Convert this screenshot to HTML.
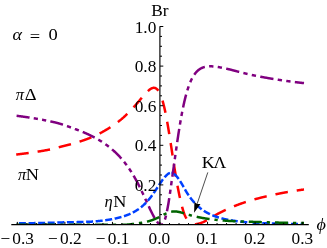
<!DOCTYPE html><html><head><meta charset="utf-8"><style>html,body{margin:0;padding:0;background:#fff;width:327px;height:248px;overflow:hidden}</style></head><body><svg width="327" height="248" viewBox="0 0 327 248" style="position:absolute;left:0;top:0;will-change:transform;font-family:'Liberation Serif',serif;font-size:16.5px">
<rect width="327" height="248" fill="#fff"/>
<defs><clipPath id="cp"><rect x="0" y="0" width="327" height="224.5"/></clipPath></defs><g clip-path="url(#cp)">
<path d="M16.20,154.54 L16.45,154.51 L16.70,154.48 L16.95,154.45 L17.20,154.43 L17.45,154.40 L17.70,154.37 L17.95,154.34 L18.20,154.31 L18.45,154.28 L18.70,154.25 L18.95,154.22 L19.20,154.19 L19.45,154.16 L19.70,154.13 L19.95,154.10 L20.20,154.07 L20.45,154.04 L20.70,154.01 L20.95,153.98 L21.20,153.95 L21.45,153.92 L21.70,153.88 L21.95,153.85 L22.20,153.82 L22.45,153.79 L22.70,153.76 L22.95,153.73 L23.20,153.70 L23.45,153.66 L23.70,153.63 L23.95,153.60 L24.20,153.57 L24.45,153.54 L24.70,153.50 L24.95,153.47 L25.20,153.44 L25.45,153.41 L25.70,153.37 L25.95,153.34 L26.20,153.31 L26.45,153.27 L26.70,153.24 L26.95,153.21 L27.20,153.17 L27.45,153.14 L27.70,153.11 L27.95,153.07 L28.20,153.04 L28.45,153.00 L28.70,152.97 L28.95,152.93 L29.20,152.90 L29.45,152.86 L29.70,152.83 L29.95,152.80 L30.20,152.76 L30.45,152.72 L30.70,152.69 L30.95,152.65 L31.20,152.62 L31.45,152.58 L31.70,152.55 L31.95,152.51 L32.20,152.47 L32.45,152.44 L32.70,152.40 L32.95,152.36 L33.20,152.33 L33.45,152.29 L33.70,152.25 L33.95,152.22 L34.20,152.18 L34.45,152.14 L34.70,152.10 L34.95,152.07 L35.20,152.03 L35.45,151.99 L35.70,151.95 L35.95,151.91 L36.20,151.88 L36.45,151.84 L36.70,151.80 L36.95,151.76 L37.20,151.72 L37.45,151.68 L37.70,151.64 L37.95,151.60 L38.20,151.56 L38.45,151.52 L38.70,151.48 L38.95,151.44 L39.20,151.40 L39.45,151.36 L39.70,151.32 L39.95,151.28 L40.20,151.24 L40.45,151.20 L40.70,151.16 L40.95,151.12 L41.20,151.07 L41.45,151.03 L41.70,150.99 L41.95,150.95 L42.20,150.91 L42.45,150.86 L42.70,150.82 L42.95,150.78 L43.20,150.74 L43.45,150.69 L43.70,150.65 L43.95,150.61 L44.20,150.56 L44.45,150.52 L44.70,150.48 L44.95,150.43 L45.20,150.39 L45.45,150.34 L45.70,150.30 L45.95,150.25 L46.20,150.21 L46.45,150.16 L46.70,150.12 L46.95,150.07 L47.20,150.03 L47.45,149.98 L47.70,149.93 L47.95,149.89 L48.20,149.84 L48.45,149.79 L48.70,149.75 L48.95,149.70 L49.20,149.65 L49.45,149.60 L49.70,149.56 L49.95,149.51 L50.20,149.46 L50.45,149.41 L50.70,149.36 L50.95,149.31 L51.20,149.25 L51.45,149.20 L51.70,149.14 L51.95,149.08 L52.20,149.03 L52.45,148.97 L52.70,148.91 L52.95,148.84 L53.20,148.78 L53.45,148.72 L53.70,148.66 L53.95,148.59 L54.20,148.53 L54.45,148.46 L54.70,148.39 L54.95,148.33 L55.20,148.26 L55.45,148.19 L55.70,148.12 L55.95,148.05 L56.20,147.99 L56.45,147.92 L56.70,147.85 L56.95,147.78 L57.20,147.71 L57.45,147.64 L57.70,147.57 L57.95,147.50 L58.20,147.43 L58.45,147.36 L58.70,147.30 L58.95,147.23 L59.20,147.16 L59.45,147.09 L59.70,147.02 L59.95,146.96 L60.20,146.89 L60.45,146.83 L60.70,146.76 L60.95,146.70 L61.20,146.63 L61.45,146.57 L61.70,146.51 L61.95,146.45 L62.20,146.39 L62.45,146.33 L62.70,146.27 L62.95,146.21 L63.20,146.15 L63.45,146.09 L63.70,146.02 L63.95,145.96 L64.20,145.90 L64.45,145.84 L64.70,145.78 L64.95,145.72 L65.20,145.65 L65.45,145.59 L65.70,145.53 L65.95,145.46 L66.20,145.40 L66.45,145.34 L66.70,145.27 L66.95,145.21 L67.20,145.15 L67.45,145.08 L67.70,145.02 L67.95,144.95 L68.20,144.89 L68.45,144.82 L68.70,144.76 L68.95,144.69 L69.20,144.62 L69.45,144.56 L69.70,144.49 L69.95,144.42 L70.20,144.36 L70.45,144.29 L70.70,144.22 L70.95,144.15 L71.20,144.09 L71.45,144.02 L71.70,143.95 L71.95,143.88 L72.20,143.81 L72.45,143.74 L72.70,143.67 L72.95,143.60 L73.20,143.53 L73.45,143.46 L73.70,143.39 L73.95,143.32 L74.20,143.25 L74.45,143.17 L74.70,143.10 L74.95,143.03 L75.20,142.95 L75.45,142.88 L75.70,142.81 L75.95,142.73 L76.20,142.66 L76.45,142.58 L76.70,142.51 L76.95,142.43 L77.20,142.36 L77.45,142.28 L77.70,142.20 L77.95,142.13 L78.20,142.05 L78.45,141.97 L78.70,141.89 L78.95,141.82 L79.20,141.74 L79.45,141.66 L79.70,141.58 L79.95,141.50 L80.20,141.42 L80.45,141.34 L80.70,141.25 L80.95,141.17 L81.20,141.09 L81.45,141.01 L81.70,140.92 L81.95,140.84 L82.20,140.76 L82.45,140.67 L82.70,140.59 L82.95,140.50 L83.20,140.42 L83.45,140.33 L83.70,140.24 L83.95,140.16 L84.20,140.07 L84.45,139.98 L84.70,139.89 L84.95,139.80 L85.20,139.71 L85.45,139.62 L85.70,139.53 L85.95,139.44 L86.20,139.35 L86.45,139.26 L86.70,139.16 L86.95,139.07 L87.20,138.98 L87.45,138.88 L87.70,138.79 L87.95,138.69 L88.20,138.60 L88.45,138.50 L88.70,138.40 L88.95,138.30 L89.20,138.21 L89.45,138.11 L89.70,138.01 L89.95,137.91 L90.20,137.81 L90.45,137.71 L90.70,137.60 L90.95,137.50 L91.20,137.40 L91.45,137.29 L91.70,137.19 L91.95,137.08 L92.20,136.97 L92.45,136.87 L92.70,136.76 L92.95,136.65 L93.20,136.54 L93.45,136.43 L93.70,136.32 L93.95,136.20 L94.20,136.09 L94.45,135.98 L94.70,135.86 L94.95,135.75 L95.20,135.63 L95.45,135.51 L95.70,135.40 L95.95,135.28 L96.20,135.16 L96.45,135.04 L96.70,134.92 L96.95,134.80 L97.20,134.68 L97.45,134.55 L97.70,134.43 L97.95,134.30 L98.20,134.18 L98.45,134.05 L98.70,133.93 L98.95,133.80 L99.20,133.67 L99.45,133.54 L99.70,133.42 L99.95,133.29 L100.20,133.15 L100.45,133.02 L100.70,132.89 L100.95,132.76 L101.20,132.63 L101.45,132.49 L101.70,132.36 L101.95,132.22 L102.20,132.08 L102.45,131.95 L102.70,131.81 L102.95,131.67 L103.20,131.53 L103.45,131.39 L103.70,131.25 L103.95,131.11 L104.20,130.97 L104.45,130.83 L104.70,130.68 L104.95,130.54 L105.20,130.39 L105.45,130.25 L105.70,130.10 L105.95,129.95 L106.20,129.81 L106.45,129.66 L106.70,129.51 L106.95,129.36 L107.20,129.21 L107.45,129.06 L107.70,128.91 L107.95,128.75 L108.20,128.60 L108.45,128.45 L108.70,128.29 L108.95,128.14 L109.20,127.98 L109.45,127.82 L109.70,127.66 L109.95,127.51 L110.20,127.35 L110.45,127.19 L110.70,127.03 L110.95,126.87 L111.20,126.70 L111.45,126.54 L111.70,126.38 L111.95,126.21 L112.20,126.05 L112.45,125.88 L112.70,125.72 L112.95,125.55 L113.20,125.38 L113.45,125.21 L113.70,125.04 L113.95,124.87 L114.20,124.69 L114.45,124.52 L114.70,124.34 L114.95,124.17 L115.20,123.99 L115.45,123.81 L115.70,123.63 L115.95,123.45 L116.20,123.26 L116.45,123.08 L116.70,122.90 L116.95,122.71 L117.20,122.52 L117.45,122.33 L117.70,122.14 L117.95,121.95 L118.20,121.76 L118.45,121.57 L118.70,121.37 L118.95,121.18 L119.20,120.98 L119.45,120.78 L119.70,120.58 L119.95,120.38 L120.20,120.18 L120.45,119.97 L120.70,119.77 L120.95,119.56 L121.20,119.35 L121.45,119.15 L121.70,118.94 L121.95,118.72 L122.20,118.51 L122.45,118.30 L122.70,118.08 L122.95,117.86 L123.20,117.65 L123.45,117.43 L123.70,117.20 L123.95,116.98 L124.20,116.76 L124.45,116.53 L124.70,116.31 L124.95,116.08 L125.20,115.85 L125.45,115.62 L125.70,115.38 L125.95,115.15 L126.20,114.91 L126.45,114.68 L126.70,114.44 L126.95,114.20 L127.20,113.96 L127.45,113.72 L127.70,113.47 L127.95,113.23 L128.20,112.98 L128.45,112.73 L128.70,112.48 L128.95,112.23 L129.20,111.98 L129.45,111.72 L129.70,111.47 L129.95,111.21 L130.20,110.95 L130.45,110.69 L130.70,110.43 L130.95,110.17 L131.20,109.91 L131.45,109.64 L131.70,109.37 L131.95,109.11 L132.20,108.84 L132.45,108.57 L132.70,108.29 L132.95,108.02 L133.20,107.75 L133.45,107.47 L133.70,107.19 L133.95,106.91 L134.20,106.63 L134.45,106.35 L134.70,106.07 L134.95,105.79 L135.20,105.50 L135.45,105.22 L135.70,104.93 L135.95,104.65 L136.20,104.36 L136.45,104.07 L136.70,103.78 L136.95,103.49 L137.20,103.20 L137.45,102.90 L137.70,102.61 L137.95,102.32 L138.20,102.02 L138.45,101.73 L138.70,101.43 L138.95,101.13 L139.20,100.84 L139.45,100.54 L139.70,100.24 L139.95,99.95 L140.20,99.65 L140.45,99.35 L140.70,99.05 L140.95,98.76 L141.20,98.46 L141.45,98.16 L141.70,97.87 L141.95,97.57 L142.20,97.28 L142.45,96.99 L142.70,96.69 L142.95,96.40 L143.20,96.11 L143.45,95.82 L143.70,95.53 L143.95,95.25 L144.20,94.96 L144.45,94.68 L144.70,94.40 L144.95,94.12 L145.20,93.85 L145.45,93.57 L145.70,93.30 L145.95,93.04 L146.20,92.77 L146.45,92.51 L146.70,92.26 L146.95,92.01 L147.20,91.76 L147.45,91.52 L147.70,91.28 L147.95,91.04 L148.20,90.81 L148.45,90.59 L148.70,90.37 L148.95,90.16 L149.20,89.96 L149.45,89.76 L149.70,89.57 L149.95,89.39 L150.20,89.22 L150.45,89.05 L150.70,88.89 L150.95,88.74 L151.20,88.60 L151.45,88.48 L151.70,88.36 L151.95,88.25 L152.20,88.15 L152.45,88.07 L152.70,87.99 L152.95,87.93 L153.20,87.89 L153.45,87.85 L153.70,87.83 L153.95,87.83 L154.20,87.84 L154.45,87.87 L154.70,87.91 L154.95,87.97 L155.20,88.05 L155.45,88.14 L155.70,88.26 L155.95,88.39 L156.20,88.54 L156.45,88.72 L156.70,88.91 L156.95,89.13 L157.20,89.36 L157.45,89.63 L157.70,89.91 L157.95,90.22 L158.20,90.55 L158.45,90.91 L158.70,91.29 L158.95,91.70 L159.20,92.14 L159.45,92.60 L159.70,93.09 L159.95,93.61" fill="none" stroke="#ff0000" stroke-width="2.5" stroke-dasharray="12.6 9.0" stroke-dashoffset="-0.00"/>
<path d="M160.00,93.72 L160.25,94.27 L160.50,94.85 L160.75,95.46 L161.00,96.11 L161.25,96.78 L161.50,97.48 L161.75,98.22 L162.00,98.98 L162.25,99.78 L162.50,100.61 L162.75,101.47 L163.00,102.36 L163.25,103.28 L163.50,104.24 L163.75,105.23 L164.00,106.24 L164.25,107.29 L164.50,108.37 L164.75,109.49 L165.00,110.63 L165.25,111.80 L165.50,113.00 L165.75,114.23 L166.00,115.49 L166.25,116.78 L166.50,118.09 L166.75,119.43 L167.00,120.80 L167.25,122.19 L167.50,123.60 L167.75,125.04 L168.00,126.50 L168.25,127.97 L168.50,129.47 L168.75,130.99 L169.00,132.52 L169.25,134.06 L169.50,135.63 L169.75,137.20 L170.00,138.79 L170.25,140.38 L170.50,141.99 L170.75,143.61 L171.00,145.24 L171.25,146.87 L171.50,148.51 L171.75,150.15 L172.00,151.80 L172.25,153.45 L172.50,155.09 L172.75,156.74 L173.00,158.38 L173.25,160.01 L173.50,161.64 L173.75,163.26 L174.00,164.88 L174.25,166.48 L174.50,168.07 L174.75,169.65 L175.00,171.21 L175.25,172.76 L175.50,174.29 L175.75,175.80 L176.00,177.30 L176.25,178.78 L176.50,180.24 L176.75,181.67 L177.00,183.09 L177.25,184.48 L177.50,185.85 L177.75,187.20 L178.00,188.52 L178.25,189.82 L178.50,191.10 L178.75,192.35 L179.00,193.57 L179.25,194.77 L179.50,195.94 L179.75,197.08 L180.00,198.20 L180.25,199.30 L180.50,200.38 L180.75,201.45 L181.00,202.50 L181.25,203.52 L181.50,204.53 L181.75,205.51 L182.00,206.47 L182.25,207.41 L182.50,208.32 L182.75,209.20 L183.00,210.05 L183.25,210.88 L183.50,211.67 L183.75,212.43 L184.00,213.16 L184.25,213.85 L184.50,214.51 L184.75,215.14 L185.00,215.72 L185.25,216.27 L185.50,216.80 L185.75,217.31 L186.00,217.79 L186.25,218.25 L186.50,218.68 L186.75,219.10 L187.00,219.50 L187.25,219.88 L187.50,220.23 L187.75,220.57 L188.00,220.90 L188.25,221.20 L188.50,221.50 L188.75,221.77 L189.00,222.03 L189.25,222.28 L189.50,222.52 L189.75,222.74 L190.00,222.95 L190.25,223.16 L190.50,223.35 L190.75,223.52 L191.00,223.69 L191.25,223.85 L191.50,223.99 L191.75,224.13 L192.00,224.25" fill="none" stroke="#ff0000" stroke-width="2.5" stroke-dasharray="12.6 9.0" stroke-dashoffset="-7.34"/>
<path d="M192.00,224.25 L192.25,224.36 L192.50,224.46 L192.75,224.54 L193.00,224.62 L193.25,224.67 L193.50,224.70 L193.75,224.70 L194.00,224.68 L194.25,224.65 L194.50,224.60 L194.75,224.54 L195.00,224.47 L195.25,224.40 L195.50,224.32 L195.75,224.24 L196.00,224.16 L196.25,224.09 L196.50,224.03 L196.75,223.98 L197.00,223.94 L197.25,223.90 L197.50,223.86 L197.75,223.82 L198.00,223.77 L198.25,223.72 L198.50,223.67 L198.75,223.61 L199.00,223.55 L199.25,223.49 L199.50,223.42 L199.75,223.35 L200.00,223.28 L200.25,223.21 L200.50,223.13 L200.75,223.05 L201.00,222.96 L201.25,222.88 L201.50,222.79 L201.75,222.69 L202.00,222.60 L202.25,222.50 L202.50,222.40 L202.75,222.29 L203.00,222.19 L203.25,222.08 L203.50,221.97 L203.75,221.85 L204.00,221.74 L204.25,221.62 L204.50,221.50 L204.75,221.37 L205.00,221.25 L205.25,221.12 L205.50,220.99 L205.75,220.85 L206.00,220.72 L206.25,220.58 L206.50,220.45 L206.75,220.31 L207.00,220.17 L207.25,220.03 L207.50,219.88 L207.75,219.74 L208.00,219.60 L208.25,219.45 L208.50,219.31 L208.75,219.16 L209.00,219.02 L209.25,218.87 L209.50,218.72 L209.75,218.58 L210.00,218.43 L210.25,218.29 L210.50,218.14 L210.75,217.99 L211.00,217.84 L211.25,217.70 L211.50,217.55 L211.75,217.40 L212.00,217.25 L212.25,217.09 L212.50,216.94 L212.75,216.79 L213.00,216.64 L213.25,216.49 L213.50,216.34 L213.75,216.19 L214.00,216.04 L214.25,215.88 L214.50,215.73 L214.75,215.58 L215.00,215.43 L215.25,215.28 L215.50,215.14 L215.75,214.99 L216.00,214.84 L216.25,214.69 L216.50,214.55 L216.75,214.40 L217.00,214.26 L217.25,214.12 L217.50,213.98 L217.75,213.84 L218.00,213.70 L218.25,213.56 L218.50,213.42 L218.75,213.29 L219.00,213.16 L219.25,213.02 L219.50,212.89 L219.75,212.77 L220.00,212.64 L220.25,212.51 L220.50,212.39 L220.75,212.26 L221.00,212.14 L221.25,212.02 L221.50,211.89 L221.75,211.77 L222.00,211.65 L222.25,211.52 L222.50,211.40 L222.75,211.28 L223.00,211.16 L223.25,211.04 L223.50,210.92 L223.75,210.80 L224.00,210.68 L224.25,210.56 L224.50,210.44 L224.75,210.32 L225.00,210.21 L225.25,210.09 L225.50,209.97 L225.75,209.86 L226.00,209.74 L226.25,209.62 L226.50,209.51 L226.75,209.40 L227.00,209.28 L227.25,209.17 L227.50,209.05 L227.75,208.94 L228.00,208.83 L228.25,208.72 L228.50,208.61 L228.75,208.50 L229.00,208.39 L229.25,208.28 L229.50,208.17 L229.75,208.06 L230.00,207.95 L230.25,207.84 L230.50,207.73 L230.75,207.63 L231.00,207.52 L231.25,207.41 L231.50,207.31 L231.75,207.20 L232.00,207.10 L232.25,206.99 L232.50,206.89 L232.75,206.79 L233.00,206.68 L233.25,206.58 L233.50,206.48 L233.75,206.38 L234.00,206.28 L234.25,206.17 L234.50,206.07 L234.75,205.97 L235.00,205.88 L235.25,205.78 L235.50,205.68 L235.75,205.58 L236.00,205.48 L236.25,205.38 L236.50,205.29 L236.75,205.19 L237.00,205.10 L237.25,205.00 L237.50,204.91 L237.75,204.81 L238.00,204.72 L238.25,204.62 L238.50,204.53 L238.75,204.44 L239.00,204.34 L239.25,204.25 L239.50,204.16 L239.75,204.07 L240.00,203.98 L240.25,203.89 L240.50,203.80 L240.75,203.71 L241.00,203.62 L241.25,203.53 L241.50,203.44 L241.75,203.36 L242.00,203.27 L242.25,203.18 L242.50,203.09 L242.75,203.01 L243.00,202.92 L243.25,202.84 L243.50,202.75 L243.75,202.67 L244.00,202.58 L244.25,202.50 L244.50,202.41 L244.75,202.33 L245.00,202.25 L245.25,202.17 L245.50,202.08 L245.75,202.00 L246.00,201.92 L246.25,201.84 L246.50,201.76 L246.75,201.68 L247.00,201.60 L247.25,201.52 L247.50,201.44 L247.75,201.36 L248.00,201.28 L248.25,201.20 L248.50,201.13 L248.75,201.05 L249.00,200.97 L249.25,200.90 L249.50,200.82 L249.75,200.74 L250.00,200.67 L250.25,200.59 L250.50,200.52 L250.75,200.44 L251.00,200.37 L251.25,200.29 L251.50,200.22 L251.75,200.15 L252.00,200.07 L252.25,200.00 L252.50,199.93 L252.75,199.86 L253.00,199.79 L253.25,199.71 L253.50,199.64 L253.75,199.57 L254.00,199.50 L254.25,199.43 L254.50,199.36 L254.75,199.29 L255.00,199.22 L255.25,199.15 L255.50,199.09 L255.75,199.02 L256.00,198.95 L256.25,198.88 L256.50,198.81 L256.75,198.75 L257.00,198.68 L257.25,198.61 L257.50,198.55 L257.75,198.48 L258.00,198.42 L258.25,198.35 L258.50,198.29 L258.75,198.22 L259.00,198.16 L259.25,198.09 L259.50,198.03 L259.75,197.96 L260.00,197.90 L260.25,197.84 L260.50,197.78 L260.75,197.71 L261.00,197.65 L261.25,197.59 L261.50,197.53 L261.75,197.46 L262.00,197.40 L262.25,197.34 L262.50,197.28 L262.75,197.22 L263.00,197.16 L263.25,197.09 L263.50,197.03 L263.75,196.97 L264.00,196.91 L264.25,196.85 L264.50,196.79 L264.75,196.73 L265.00,196.67 L265.25,196.61 L265.50,196.56 L265.75,196.50 L266.00,196.44 L266.25,196.38 L266.50,196.32 L266.75,196.26 L267.00,196.20 L267.25,196.15 L267.50,196.09 L267.75,196.03 L268.00,195.97 L268.25,195.92 L268.50,195.86 L268.75,195.80 L269.00,195.74 L269.25,195.69 L269.50,195.63 L269.75,195.58 L270.00,195.52 L270.25,195.46 L270.50,195.41 L270.75,195.35 L271.00,195.30 L271.25,195.24 L271.50,195.19 L271.75,195.13 L272.00,195.08 L272.25,195.02 L272.50,194.97 L272.75,194.92 L273.00,194.86 L273.25,194.81 L273.50,194.75 L273.75,194.70 L274.00,194.65 L274.25,194.59 L274.50,194.54 L274.75,194.49 L275.00,194.44 L275.25,194.38 L275.50,194.33 L275.75,194.28 L276.00,194.23 L276.25,194.18 L276.50,194.12 L276.75,194.07 L277.00,194.02 L277.25,193.97 L277.50,193.92 L277.75,193.87 L278.00,193.82 L278.25,193.77 L278.50,193.72 L278.75,193.67 L279.00,193.62 L279.25,193.57 L279.50,193.52 L279.75,193.47 L280.00,193.42 L280.25,193.37 L280.50,193.32 L280.75,193.27 L281.00,193.23 L281.25,193.18 L281.50,193.13 L281.75,193.08 L282.00,193.03 L282.25,192.99 L282.50,192.94 L282.75,192.89 L283.00,192.84 L283.25,192.80 L283.50,192.75 L283.75,192.70 L284.00,192.66 L284.25,192.61 L284.50,192.56 L284.75,192.52 L285.00,192.47 L285.25,192.43 L285.50,192.38 L285.75,192.34 L286.00,192.29 L286.25,192.25 L286.50,192.20 L286.75,192.16 L287.00,192.11 L287.25,192.07 L287.50,192.02 L287.75,191.98 L288.00,191.94 L288.25,191.89 L288.50,191.85 L288.75,191.80 L289.00,191.76 L289.25,191.72 L289.50,191.68 L289.75,191.63 L290.00,191.59 L290.25,191.55 L290.50,191.51 L290.75,191.46 L291.00,191.42 L291.25,191.38 L291.50,191.34 L291.75,191.30 L292.00,191.26 L292.25,191.22 L292.50,191.18 L292.75,191.14 L293.00,191.10 L293.25,191.05 L293.50,191.01 L293.75,190.97 L294.00,190.94 L294.25,190.90 L294.50,190.86 L294.75,190.82 L295.00,190.78 L295.25,190.74 L295.50,190.70 L295.75,190.66 L296.00,190.62 L296.25,190.59 L296.50,190.55 L296.75,190.51 L297.00,190.47 L297.25,190.43 L297.50,190.40 L297.75,190.36 L298.00,190.32 L298.25,190.29 L298.50,190.25 L298.75,190.21 L299.00,190.18 L299.25,190.14 L299.50,190.11 L299.75,190.07 L300.00,190.03 L300.25,190.00 L300.50,189.96 L300.75,189.93 L301.00,189.89 L301.25,189.86 L301.50,189.83 L301.75,189.79 L302.00,189.76 L302.25,189.72 L302.50,189.69 L302.75,189.66 L303.00,189.62 L303.25,189.59 L303.50,189.56 L303.75,189.52 L304.00,189.49" fill="none" stroke="#ff0000" stroke-width="2.5" stroke-dasharray="12.6 9.0" stroke-dashoffset="-3.15"/>
<path d="M16.20,115.74 L16.45,115.77 L16.70,115.80 L16.95,115.83 L17.20,115.86 L17.45,115.89 L17.70,115.93 L17.95,115.96 L18.20,115.99 L18.45,116.02 L18.70,116.06 L18.95,116.09 L19.20,116.12 L19.45,116.15 L19.70,116.19 L19.95,116.22 L20.20,116.25 L20.45,116.29 L20.70,116.32 L20.95,116.35 L21.20,116.39 L21.45,116.42 L21.70,116.46 L21.95,116.49 L22.20,116.52 L22.45,116.56 L22.70,116.59 L22.95,116.63 L23.20,116.66 L23.45,116.70 L23.70,116.73 L23.95,116.77 L24.20,116.80 L24.45,116.84 L24.70,116.87 L24.95,116.91 L25.20,116.94 L25.45,116.98 L25.70,117.02 L25.95,117.05 L26.20,117.09 L26.45,117.13 L26.70,117.16 L26.95,117.20 L27.20,117.24 L27.45,117.27 L27.70,117.31 L27.95,117.35 L28.20,117.38 L28.45,117.42 L28.70,117.46 L28.95,117.50 L29.20,117.54 L29.45,117.57 L29.70,117.61 L29.95,117.65 L30.20,117.69 L30.45,117.73 L30.70,117.77 L30.95,117.81 L31.20,117.84 L31.45,117.88 L31.70,117.92 L31.95,117.96 L32.20,118.00 L32.45,118.04 L32.70,118.08 L32.95,118.12 L33.20,118.16 L33.45,118.20 L33.70,118.25 L33.95,118.29 L34.20,118.33 L34.45,118.37 L34.70,118.41 L34.95,118.45 L35.20,118.49 L35.45,118.54 L35.70,118.58 L35.95,118.62 L36.20,118.66 L36.45,118.70 L36.70,118.75 L36.95,118.79 L37.20,118.83 L37.45,118.88 L37.70,118.92 L37.95,118.96 L38.20,119.01 L38.45,119.05 L38.70,119.10 L38.95,119.14 L39.20,119.18 L39.45,119.23 L39.70,119.27 L39.95,119.32 L40.20,119.36 L40.45,119.41 L40.70,119.46 L40.95,119.50 L41.20,119.55 L41.45,119.59 L41.70,119.64 L41.95,119.69 L42.20,119.73 L42.45,119.78 L42.70,119.83 L42.95,119.87 L43.20,119.92 L43.45,119.97 L43.70,120.02 L43.95,120.07 L44.20,120.11 L44.45,120.16 L44.70,120.21 L44.95,120.26 L45.20,120.31 L45.45,120.36 L45.70,120.41 L45.95,120.46 L46.20,120.51 L46.45,120.56 L46.70,120.61 L46.95,120.66 L47.20,120.71 L47.45,120.76 L47.70,120.81 L47.95,120.86 L48.20,120.91 L48.45,120.97 L48.70,121.02 L48.95,121.07 L49.20,121.12 L49.45,121.18 L49.70,121.23 L49.95,121.28 L50.20,121.34 L50.45,121.39 L50.70,121.44 L50.95,121.50 L51.20,121.55 L51.45,121.61 L51.70,121.66 L51.95,121.72 L52.20,121.77 L52.45,121.83 L52.70,121.88 L52.95,121.94 L53.20,122.00 L53.45,122.05 L53.70,122.11 L53.95,122.17 L54.20,122.22 L54.45,122.28 L54.70,122.34 L54.95,122.40 L55.20,122.46 L55.45,122.52 L55.70,122.58 L55.95,122.64 L56.20,122.70 L56.45,122.76 L56.70,122.83 L56.95,122.89 L57.20,122.96 L57.45,123.02 L57.70,123.09 L57.95,123.16 L58.20,123.23 L58.45,123.30 L58.70,123.37 L58.95,123.44 L59.20,123.51 L59.45,123.58 L59.70,123.66 L59.95,123.73 L60.20,123.81 L60.45,123.88 L60.70,123.96 L60.95,124.03 L61.20,124.11 L61.45,124.19 L61.70,124.27 L61.95,124.35 L62.20,124.43 L62.45,124.51 L62.70,124.59 L62.95,124.67 L63.20,124.75 L63.45,124.83 L63.70,124.92 L63.95,125.00 L64.20,125.08 L64.45,125.17 L64.70,125.25 L64.95,125.34 L65.20,125.42 L65.45,125.51 L65.70,125.59 L65.95,125.68 L66.20,125.77 L66.45,125.86 L66.70,125.94 L66.95,126.03 L67.20,126.12 L67.45,126.21 L67.70,126.30 L67.95,126.39 L68.20,126.48 L68.45,126.57 L68.70,126.66 L68.95,126.75 L69.20,126.84 L69.45,126.93 L69.70,127.02 L69.95,127.11 L70.20,127.21 L70.45,127.30 L70.70,127.39 L70.95,127.48 L71.20,127.57 L71.45,127.67 L71.70,127.76 L71.95,127.85 L72.20,127.94 L72.45,128.04 L72.70,128.13 L72.95,128.22 L73.20,128.32 L73.45,128.41 L73.70,128.50 L73.95,128.59 L74.20,128.69 L74.45,128.78 L74.70,128.87 L74.95,128.97 L75.20,129.06 L75.45,129.15 L75.70,129.24 L75.95,129.34 L76.20,129.43 L76.45,129.52 L76.70,129.61 L76.95,129.71 L77.20,129.80 L77.45,129.89 L77.70,129.98 L77.95,130.08 L78.20,130.17 L78.45,130.27 L78.70,130.36 L78.95,130.46 L79.20,130.55 L79.45,130.65 L79.70,130.75 L79.95,130.84 L80.20,130.94 L80.45,131.04 L80.70,131.14 L80.95,131.24 L81.20,131.33 L81.45,131.43 L81.70,131.54 L81.95,131.64 L82.20,131.74 L82.45,131.84 L82.70,131.94 L82.95,132.05 L83.20,132.15 L83.45,132.25 L83.70,132.36 L83.95,132.46 L84.20,132.57 L84.45,132.67 L84.70,132.78 L84.95,132.89 L85.20,133.00 L85.45,133.10 L85.70,133.21 L85.95,133.32 L86.20,133.43 L86.45,133.54 L86.70,133.66 L86.95,133.77 L87.20,133.88 L87.45,133.99 L87.70,134.11 L87.95,134.22 L88.20,134.34 L88.45,134.45 L88.70,134.57 L88.95,134.69 L89.20,134.80 L89.45,134.92 L89.70,135.04 L89.95,135.16 L90.20,135.28 L90.45,135.40 L90.70,135.52 L90.95,135.65 L91.20,135.77 L91.45,135.89 L91.70,136.02 L91.95,136.14 L92.20,136.27 L92.45,136.40 L92.70,136.52 L92.95,136.65 L93.20,136.78 L93.45,136.91 L93.70,137.04 L93.95,137.17 L94.20,137.30 L94.45,137.44 L94.70,137.57 L94.95,137.70 L95.20,137.84 L95.45,137.98 L95.70,138.11 L95.95,138.25 L96.20,138.39 L96.45,138.53 L96.70,138.67 L96.95,138.81 L97.20,138.95 L97.45,139.09 L97.70,139.24 L97.95,139.38 L98.20,139.53 L98.45,139.68 L98.70,139.82 L98.95,139.97 L99.20,140.12 L99.45,140.27 L99.70,140.42 L99.95,140.58 L100.20,140.73 L100.45,140.88 L100.70,141.04 L100.95,141.20 L101.20,141.35 L101.45,141.51 L101.70,141.67 L101.95,141.83 L102.20,141.99 L102.45,142.16 L102.70,142.32 L102.95,142.48 L103.20,142.65 L103.45,142.82 L103.70,142.99 L103.95,143.16 L104.20,143.33 L104.45,143.50 L104.70,143.67 L104.95,143.85 L105.20,144.02 L105.45,144.20 L105.70,144.38 L105.95,144.55 L106.20,144.74 L106.45,144.92 L106.70,145.10 L106.95,145.28 L107.20,145.47 L107.45,145.66 L107.70,145.84 L107.95,146.03 L108.20,146.23 L108.45,146.42 L108.70,146.61 L108.95,146.81 L109.20,147.00 L109.45,147.20 L109.70,147.40 L109.95,147.60 L110.20,147.80 L110.45,148.01 L110.70,148.21 L110.95,148.42 L111.20,148.63 L111.45,148.84 L111.70,149.05 L111.95,149.26 L112.20,149.48 L112.45,149.69 L112.70,149.91 L112.95,150.13 L113.20,150.35 L113.45,150.57 L113.70,150.80 L113.95,151.02 L114.20,151.25 L114.45,151.48 L114.70,151.71 L114.95,151.94 L115.20,152.18 L115.45,152.41 L115.70,152.65 L115.95,152.89 L116.20,153.13 L116.45,153.38 L116.70,153.62 L116.95,153.87 L117.20,154.12 L117.45,154.37 L117.70,154.62 L117.95,154.88 L118.20,155.14 L118.45,155.40 L118.70,155.66 L118.95,155.92 L119.20,156.19 L119.45,156.45 L119.70,156.72 L119.95,156.99 L120.20,157.27 L120.45,157.54 L120.70,157.82 L120.95,158.10 L121.20,158.39 L121.45,158.67 L121.70,158.96 L121.95,159.25 L122.20,159.54 L122.45,159.83 L122.70,160.13 L122.95,160.43 L123.20,160.73 L123.45,161.03 L123.70,161.34 L123.95,161.65 L124.20,161.96 L124.45,162.27 L124.70,162.59 L124.95,162.91 L125.20,163.23 L125.45,163.55 L125.70,163.88 L125.95,164.21 L126.20,164.54 L126.45,164.87 L126.70,165.21 L126.95,165.55 L127.20,165.89 L127.45,166.24 L127.70,166.59 L127.95,166.94 L128.20,167.29 L128.45,167.65 L128.70,168.01 L128.95,168.38 L129.20,168.74 L129.45,169.11 L129.70,169.48 L129.95,169.86 L130.20,170.24 L130.45,170.62 L130.70,171.00 L130.95,171.39 L131.20,171.78 L131.45,172.18 L131.70,172.57 L131.95,172.98 L132.20,173.38 L132.45,173.79 L132.70,174.20 L132.95,174.61 L133.20,175.03 L133.45,175.45 L133.70,175.87 L133.95,176.30 L134.20,176.73 L134.45,177.16 L134.70,177.60 L134.95,178.04 L135.20,178.49 L135.45,178.93 L135.70,179.39 L135.95,179.84 L136.20,180.30 L136.45,180.76 L136.70,181.23 L136.95,181.69 L137.20,182.17 L137.45,182.64 L137.70,183.12 L137.95,183.60 L138.20,184.09 L138.45,184.58 L138.70,185.07 L138.95,185.56 L139.20,186.06 L139.45,186.57 L139.70,187.07 L139.95,187.58 L140.20,188.09 L140.45,188.61 L140.70,189.12 L140.95,189.64 L141.20,190.15 L141.45,190.67 L141.70,191.19 L141.95,191.71 L142.20,192.23 L142.45,192.76 L142.70,193.28 L142.95,193.81 L143.20,194.34 L143.45,194.87 L143.70,195.40 L143.95,195.93 L144.20,196.47 L144.45,197.00 L144.70,197.54 L144.95,198.08 L145.20,198.62 L145.45,199.16 L145.70,199.70 L145.95,200.24 L146.20,200.79 L146.45,201.33 L146.70,201.87 L146.95,202.42 L147.20,202.96 L147.45,203.51 L147.70,204.05 L147.95,204.60 L148.20,205.15 L148.45,205.69 L148.70,206.23 L148.95,206.78 L149.20,207.32 L149.45,207.86 L149.70,208.40 L149.95,208.94 L150.20,209.47 L150.45,210.00 L150.70,210.52 L150.95,211.04 L151.20,211.55 L151.45,212.06 L151.70,212.56 L151.95,213.05 L152.20,213.54 L152.45,214.02 L152.70,214.50 L152.95,214.97 L153.20,215.43 L153.45,215.88 L153.70,216.33 L153.95,216.77 L154.20,217.20 L154.45,217.62 L154.70,218.03 L154.95,218.43 L155.20,218.83 L155.45,219.22 L155.70,219.62 L155.95,220.00 L156.20,220.39 L156.45,220.76 L156.70,221.13 L156.95,221.48 L157.20,221.82 L157.45,222.15 L157.70,222.46 L157.95,222.75 L158.20,223.02 L158.45,223.27 L158.70,223.49 L158.95,223.68 L159.20,223.86 L159.45,224.03 L159.70,224.19 L159.95,224.33" fill="none" stroke="#800080" stroke-width="2.5" stroke-dasharray="13.1 4.22 4.22 4.22 4.22 4.22" stroke-dashoffset="-0.40"/>
<path d="M160.00,224.36 L160.25,224.48 L160.50,224.57 L160.75,224.63 L161.00,224.67 L161.25,224.66 L161.50,224.61 L161.75,224.52 L162.00,224.37 L162.25,224.19 L162.50,223.98 L162.75,223.73 L163.00,223.45 L163.25,223.13 L163.50,222.76 L163.75,222.34 L164.00,221.86 L164.25,221.32 L164.50,220.72 L164.75,220.04 L165.00,219.29 L165.25,218.46 L165.50,217.57 L165.75,216.62 L166.00,215.62 L166.25,214.56 L166.50,213.44 L166.75,212.28 L167.00,211.07 L167.25,209.82 L167.50,208.52 L167.75,207.19 L168.00,205.83 L168.25,204.41 L168.50,202.93 L168.75,201.40 L169.00,199.81 L169.25,198.18 L169.50,196.51 L169.75,194.80 L170.00,193.07 L170.25,191.31 L170.50,189.54 L170.75,187.77 L171.00,185.98 L171.25,184.21 L171.50,182.44 L171.75,180.69 L172.00,178.96 L172.25,177.24 L172.50,175.50 L172.75,173.75 L173.00,171.99 L173.25,170.22 L173.50,168.45 L173.75,166.66 L174.00,164.87 L174.25,163.08 L174.50,161.29 L174.75,159.49 L175.00,157.70 L175.25,155.91 L175.50,154.13 L175.75,152.35 L176.00,150.58 L176.25,148.82 L176.50,147.07 L176.75,145.33 L177.00,143.60 L177.25,141.88 L177.50,140.18 L177.75,138.49 L178.00,136.82 L178.25,135.17 L178.50,133.53 L178.75,131.92 L179.00,130.32 L179.25,128.74 L179.50,127.19 L179.75,125.65 L180.00,124.14 L180.25,122.65 L180.50,121.19 L180.75,119.74 L181.00,118.32 L181.25,116.93 L181.50,115.55 L181.75,114.20 L182.00,112.88 L182.25,111.58 L182.50,110.31 L182.75,109.06 L183.00,107.83 L183.25,106.63 L183.50,105.45 L183.75,104.30 L184.00,103.18 L184.25,102.07 L184.50,100.99 L184.75,99.94 L185.00,98.91 L185.25,97.90 L185.50,96.92 L185.75,95.96 L186.00,95.02 L186.25,94.10 L186.50,93.21 L186.75,92.34 L187.00,91.49 L187.25,90.66 L187.50,89.85 L187.75,89.06 L188.00,88.30 L188.25,87.55 L188.50,86.82 L188.75,86.12 L189.00,85.43 L189.25,84.76 L189.50,84.11 L189.75,83.47 L190.00,82.86 L190.25,82.26 L190.50,81.68 L190.75,81.11 L191.00,80.56 L191.25,80.03 L191.50,79.51 L191.75,79.01 L192.00,78.52 L192.25,78.05 L192.50,77.59 L192.75,77.14 L193.00,76.71 L193.25,76.29 L193.50,75.88 L193.75,75.49 L194.00,75.11 L194.25,74.74 L194.50,74.38 L194.75,74.04 L195.00,73.70 L195.25,73.38 L195.50,73.07 L195.75,72.77 L196.00,72.47 L196.25,72.19 L196.50,71.92 L196.75,71.65 L197.00,71.40 L197.25,71.15 L197.50,70.92 L197.75,70.69 L198.00,70.47 L198.25,70.26 L198.50,70.05 L198.75,69.85 L199.00,69.66 L199.25,69.48 L199.50,69.31 L199.75,69.14 L200.00,68.98 L200.25,68.82 L200.50,68.67 L200.75,68.53 L201.00,68.39 L201.25,68.26 L201.50,68.13 L201.75,68.01 L202.00,67.90 L202.25,67.79 L202.50,67.68 L202.75,67.58 L203.00,67.49 L203.25,67.40 L203.50,67.31 L203.75,67.23 L204.00,67.15 L204.25,67.08 L204.50,67.01 L204.75,66.95 L205.00,66.89 L205.25,66.83 L205.50,66.78 L205.75,66.72 L206.00,66.68 L206.25,66.63 L206.50,66.59 L206.75,66.56 L207.00,66.52 L207.25,66.49 L207.50,66.46 L207.75,66.44 L208.00,66.41 L208.25,66.39 L208.50,66.38 L208.75,66.36 L209.00,66.35 L209.25,66.34 L209.50,66.33 L209.75,66.32 L210.00,66.32 L210.25,66.32 L210.50,66.32 L210.75,66.32 L211.00,66.32 L211.25,66.33 L211.50,66.34 L211.75,66.35 L212.00,66.36 L212.25,66.37 L212.50,66.39 L212.75,66.40 L213.00,66.42 L213.25,66.44 L213.50,66.46 L213.75,66.48 L214.00,66.50 L214.25,66.53 L214.50,66.55 L214.75,66.58 L215.00,66.61 L215.25,66.64 L215.50,66.67 L215.75,66.70 L216.00,66.73 L216.25,66.76 L216.50,66.80 L216.75,66.83 L217.00,66.87 L217.25,66.91 L217.50,66.94 L217.75,66.98 L218.00,67.02 L218.25,67.06 L218.50,67.10 L218.75,67.14 L219.00,67.19 L219.25,67.23 L219.50,67.27 L219.75,67.32 L220.00,67.36 L220.25,67.41 L220.50,67.45 L220.75,67.50 L221.00,67.55 L221.25,67.60 L221.50,67.64 L221.75,67.69 L222.00,67.74 L222.25,67.79 L222.50,67.84 L222.75,67.89 L223.00,67.94 L223.25,67.99 L223.50,68.04 L223.75,68.10 L224.00,68.15 L224.25,68.20 L224.50,68.25 L224.75,68.31 L225.00,68.36 L225.25,68.41 L225.50,68.47 L225.75,68.52 L226.00,68.58 L226.25,68.63 L226.50,68.69 L226.75,68.75 L227.00,68.80 L227.25,68.86 L227.50,68.92 L227.75,68.98 L228.00,69.04 L228.25,69.10 L228.50,69.16 L228.75,69.22 L229.00,69.28 L229.25,69.34 L229.50,69.40 L229.75,69.46 L230.00,69.53 L230.25,69.59 L230.50,69.65 L230.75,69.71 L231.00,69.78 L231.25,69.84 L231.50,69.90 L231.75,69.97 L232.00,70.03 L232.25,70.10 L232.50,70.16 L232.75,70.23 L233.00,70.29 L233.25,70.36 L233.50,70.42 L233.75,70.49 L234.00,70.55 L234.25,70.62 L234.50,70.68 L234.75,70.75 L235.00,70.81 L235.25,70.88 L235.50,70.95 L235.75,71.01 L236.00,71.08 L236.25,71.14 L236.50,71.21 L236.75,71.28 L237.00,71.34 L237.25,71.41 L237.50,71.47 L237.75,71.54 L238.00,71.61 L238.25,71.67 L238.50,71.74 L238.75,71.80 L239.00,71.87 L239.25,71.93 L239.50,72.00 L239.75,72.07 L240.00,72.13 L240.25,72.20 L240.50,72.26 L240.75,72.33 L241.00,72.39 L241.25,72.46 L241.50,72.52 L241.75,72.58 L242.00,72.65 L242.25,72.71 L242.50,72.78 L242.75,72.84 L243.00,72.90 L243.25,72.97 L243.50,73.03 L243.75,73.09 L244.00,73.15 L244.25,73.22 L244.50,73.28 L244.75,73.34 L245.00,73.40 L245.25,73.46 L245.50,73.52 L245.75,73.59 L246.00,73.65 L246.25,73.71 L246.50,73.77 L246.75,73.82 L247.00,73.88 L247.25,73.94 L247.50,74.00 L247.75,74.06 L248.00,74.12 L248.25,74.17 L248.50,74.23 L248.75,74.29 L249.00,74.34 L249.25,74.40 L249.50,74.46 L249.75,74.51 L250.00,74.57 L250.25,74.62 L250.50,74.68 L250.75,74.73 L251.00,74.78 L251.25,74.84 L251.50,74.89 L251.75,74.94 L252.00,75.00 L252.25,75.05 L252.50,75.10 L252.75,75.16 L253.00,75.21 L253.25,75.26 L253.50,75.31 L253.75,75.37 L254.00,75.42 L254.25,75.47 L254.50,75.52 L254.75,75.57 L255.00,75.62 L255.25,75.68 L255.50,75.73 L255.75,75.78 L256.00,75.83 L256.25,75.88 L256.50,75.93 L256.75,75.98 L257.00,76.03 L257.25,76.08 L257.50,76.13 L257.75,76.18 L258.00,76.23 L258.25,76.28 L258.50,76.32 L258.75,76.37 L259.00,76.42 L259.25,76.47 L259.50,76.52 L259.75,76.57 L260.00,76.61 L260.25,76.66 L260.50,76.71 L260.75,76.76 L261.00,76.80 L261.25,76.85 L261.50,76.90 L261.75,76.95 L262.00,76.99 L262.25,77.04 L262.50,77.09 L262.75,77.13 L263.00,77.18 L263.25,77.22 L263.50,77.27 L263.75,77.31 L264.00,77.36 L264.25,77.41 L264.50,77.45 L264.75,77.50 L265.00,77.54 L265.25,77.59 L265.50,77.63 L265.75,77.67 L266.00,77.72 L266.25,77.76 L266.50,77.81 L266.75,77.85 L267.00,77.89 L267.25,77.94 L267.50,77.98 L267.75,78.03 L268.00,78.07 L268.25,78.11 L268.50,78.15 L268.75,78.20 L269.00,78.24 L269.25,78.28 L269.50,78.33 L269.75,78.37 L270.00,78.41 L270.25,78.45 L270.50,78.49 L270.75,78.54 L271.00,78.58 L271.25,78.62 L271.50,78.66 L271.75,78.70 L272.00,78.74 L272.25,78.78 L272.50,78.82 L272.75,78.86 L273.00,78.91 L273.25,78.95 L273.50,78.99 L273.75,79.03 L274.00,79.07 L274.25,79.11 L274.50,79.15 L274.75,79.19 L275.00,79.23 L275.25,79.27 L275.50,79.31 L275.75,79.34 L276.00,79.38 L276.25,79.42 L276.50,79.46 L276.75,79.50 L277.00,79.54 L277.25,79.58 L277.50,79.62 L277.75,79.66 L278.00,79.69 L278.25,79.73 L278.50,79.77 L278.75,79.81 L279.00,79.85 L279.25,79.88 L279.50,79.92 L279.75,79.96 L280.00,80.00 L280.25,80.03 L280.50,80.07 L280.75,80.11 L281.00,80.15 L281.25,80.18 L281.50,80.22 L281.75,80.26 L282.00,80.30 L282.25,80.33 L282.50,80.37 L282.75,80.41 L283.00,80.44 L283.25,80.48 L283.50,80.52 L283.75,80.55 L284.00,80.59 L284.25,80.62 L284.50,80.66 L284.75,80.70 L285.00,80.73 L285.25,80.77 L285.50,80.80 L285.75,80.84 L286.00,80.87 L286.25,80.91 L286.50,80.95 L286.75,80.98 L287.00,81.02 L287.25,81.05 L287.50,81.09 L287.75,81.12 L288.00,81.16 L288.25,81.19 L288.50,81.22 L288.75,81.26 L289.00,81.29 L289.25,81.33 L289.50,81.36 L289.75,81.40 L290.00,81.43 L290.25,81.46 L290.50,81.50 L290.75,81.53 L291.00,81.56 L291.25,81.60 L291.50,81.63 L291.75,81.66 L292.00,81.70 L292.25,81.73 L292.50,81.76 L292.75,81.80 L293.00,81.83 L293.25,81.86 L293.50,81.89 L293.75,81.93 L294.00,81.96 L294.25,81.99 L294.50,82.02 L294.75,82.05 L295.00,82.08 L295.25,82.12 L295.50,82.15 L295.75,82.18 L296.00,82.21 L296.25,82.24 L296.50,82.27 L296.75,82.30 L297.00,82.33 L297.25,82.36 L297.50,82.39 L297.75,82.42 L298.00,82.45 L298.25,82.48 L298.50,82.51 L298.75,82.54 L299.00,82.57 L299.25,82.60 L299.50,82.63 L299.75,82.66 L300.00,82.69 L300.25,82.72 L300.50,82.75 L300.75,82.77 L301.00,82.80 L301.25,82.83 L301.50,82.86 L301.75,82.89 L302.00,82.91 L302.25,82.94 L302.50,82.97 L302.75,83.00 L303.00,83.02 L303.25,83.05 L303.50,83.08 L303.75,83.10 L304.00,83.13" fill="none" stroke="#800080" stroke-width="2.5" stroke-dasharray="13.4 4.32 4.32 4.32 4.32 4.32" stroke-dashoffset="-16.31"/>
<path d="M16.20,223.42 L16.45,223.41 L16.70,223.41 L16.95,223.41 L17.20,223.40 L17.45,223.40 L17.70,223.40 L17.95,223.39 L18.20,223.39 L18.45,223.39 L18.70,223.38 L18.95,223.38 L19.20,223.37 L19.45,223.37 L19.70,223.37 L19.95,223.36 L20.20,223.36 L20.45,223.36 L20.70,223.35 L20.95,223.35 L21.20,223.35 L21.45,223.34 L21.70,223.34 L21.95,223.33 L22.20,223.33 L22.45,223.33 L22.70,223.32 L22.95,223.32 L23.20,223.32 L23.45,223.31 L23.70,223.31 L23.95,223.30 L24.20,223.30 L24.45,223.30 L24.70,223.29 L24.95,223.29 L25.20,223.28 L25.45,223.28 L25.70,223.28 L25.95,223.27 L26.20,223.27 L26.45,223.26 L26.70,223.26 L26.95,223.26 L27.20,223.25 L27.45,223.25 L27.70,223.24 L27.95,223.24 L28.20,223.23 L28.45,223.23 L28.70,223.23 L28.95,223.22 L29.20,223.22 L29.45,223.21 L29.70,223.21 L29.95,223.20 L30.20,223.20 L30.45,223.20 L30.70,223.19 L30.95,223.19 L31.20,223.18 L31.45,223.18 L31.70,223.17 L31.95,223.17 L32.20,223.16 L32.45,223.16 L32.70,223.15 L32.95,223.15 L33.20,223.14 L33.45,223.14 L33.70,223.14 L33.95,223.13 L34.20,223.13 L34.45,223.12 L34.70,223.12 L34.95,223.11 L35.20,223.11 L35.45,223.10 L35.70,223.10 L35.95,223.09 L36.20,223.09 L36.45,223.08 L36.70,223.08 L36.95,223.07 L37.20,223.07 L37.45,223.06 L37.70,223.06 L37.95,223.05 L38.20,223.05 L38.45,223.04 L38.70,223.04 L38.95,223.03 L39.20,223.02 L39.45,223.02 L39.70,223.01 L39.95,223.01 L40.20,223.00 L40.45,223.00 L40.70,222.99 L40.95,222.99 L41.20,222.98 L41.45,222.98 L41.70,222.97 L41.95,222.96 L42.20,222.96 L42.45,222.95 L42.70,222.95 L42.95,222.94 L43.20,222.94 L43.45,222.93 L43.70,222.92 L43.95,222.92 L44.20,222.91 L44.45,222.91 L44.70,222.90 L44.95,222.89 L45.20,222.89 L45.45,222.88 L45.70,222.88 L45.95,222.87 L46.20,222.86 L46.45,222.86 L46.70,222.85 L46.95,222.84 L47.20,222.84 L47.45,222.83 L47.70,222.83 L47.95,222.82 L48.20,222.81 L48.45,222.81 L48.70,222.80 L48.95,222.79 L49.20,222.79 L49.45,222.78 L49.70,222.77 L49.95,222.77 L50.20,222.76 L50.45,222.75 L50.70,222.75 L50.95,222.74 L51.20,222.73 L51.45,222.73 L51.70,222.72 L51.95,222.71 L52.20,222.70 L52.45,222.70 L52.70,222.69 L52.95,222.68 L53.20,222.68 L53.45,222.67 L53.70,222.66 L53.95,222.65 L54.20,222.65 L54.45,222.64 L54.70,222.63 L54.95,222.62 L55.20,222.62 L55.45,222.61 L55.70,222.60 L55.95,222.59 L56.20,222.58 L56.45,222.58 L56.70,222.57 L56.95,222.56 L57.20,222.55 L57.45,222.54 L57.70,222.54 L57.95,222.53 L58.20,222.52 L58.45,222.51 L58.70,222.50 L58.95,222.50 L59.20,222.49 L59.45,222.48 L59.70,222.47 L59.95,222.46 L60.20,222.45 L60.45,222.44 L60.70,222.44 L60.95,222.43 L61.20,222.42 L61.45,222.41 L61.70,222.41 L61.95,222.40 L62.20,222.39 L62.45,222.39 L62.70,222.38 L62.95,222.37 L63.20,222.37 L63.45,222.36 L63.70,222.35 L63.95,222.35 L64.20,222.34 L64.45,222.34 L64.70,222.33 L64.95,222.33 L65.20,222.32 L65.45,222.32 L65.70,222.31 L65.95,222.31 L66.20,222.30 L66.45,222.30 L66.70,222.30 L66.95,222.29 L67.20,222.29 L67.45,222.28 L67.70,222.28 L67.95,222.27 L68.20,222.27 L68.45,222.27 L68.70,222.26 L68.95,222.26 L69.20,222.26 L69.45,222.25 L69.70,222.25 L69.95,222.24 L70.20,222.24 L70.45,222.24 L70.70,222.23 L70.95,222.23 L71.20,222.23 L71.45,222.22 L71.70,222.22 L71.95,222.22 L72.20,222.21 L72.45,222.21 L72.70,222.20 L72.95,222.20 L73.20,222.20 L73.45,222.19 L73.70,222.19 L73.95,222.18 L74.20,222.18 L74.45,222.18 L74.70,222.17 L74.95,222.17 L75.20,222.16 L75.45,222.16 L75.70,222.15 L75.95,222.15 L76.20,222.14 L76.45,222.14 L76.70,222.13 L76.95,222.13 L77.20,222.12 L77.45,222.12 L77.70,222.11 L77.95,222.10 L78.20,222.10 L78.45,222.09 L78.70,222.09 L78.95,222.08 L79.20,222.07 L79.45,222.06 L79.70,222.06 L79.95,222.05 L80.20,222.04 L80.45,222.03 L80.70,222.03 L80.95,222.02 L81.20,222.01 L81.45,222.01 L81.70,222.00 L81.95,221.99 L82.20,221.98 L82.45,221.98 L82.70,221.97 L82.95,221.96 L83.20,221.96 L83.45,221.95 L83.70,221.94 L83.95,221.94 L84.20,221.93 L84.45,221.92 L84.70,221.92 L84.95,221.91 L85.20,221.90 L85.45,221.90 L85.70,221.89 L85.95,221.88 L86.20,221.87 L86.45,221.87 L86.70,221.86 L86.95,221.85 L87.20,221.84 L87.45,221.83 L87.70,221.82 L87.95,221.81 L88.20,221.80 L88.45,221.80 L88.70,221.79 L88.95,221.77 L89.20,221.76 L89.45,221.75 L89.70,221.74 L89.95,221.73 L90.20,221.72 L90.45,221.71 L90.70,221.69 L90.95,221.68 L91.20,221.67 L91.45,221.65 L91.70,221.64 L91.95,221.62 L92.20,221.61 L92.45,221.59 L92.70,221.58 L92.95,221.56 L93.20,221.54 L93.45,221.52 L93.70,221.51 L93.95,221.49 L94.20,221.47 L94.45,221.45 L94.70,221.42 L94.95,221.40 L95.20,221.38 L95.45,221.36 L95.70,221.34 L95.95,221.31 L96.20,221.29 L96.45,221.27 L96.70,221.24 L96.95,221.22 L97.20,221.19 L97.45,221.17 L97.70,221.14 L97.95,221.12 L98.20,221.09 L98.45,221.07 L98.70,221.04 L98.95,221.02 L99.20,220.99 L99.45,220.96 L99.70,220.94 L99.95,220.91 L100.20,220.88 L100.45,220.85 L100.70,220.82 L100.95,220.80 L101.20,220.77 L101.45,220.74 L101.70,220.71 L101.95,220.68 L102.20,220.65 L102.45,220.62 L102.70,220.59 L102.95,220.55 L103.20,220.52 L103.45,220.49 L103.70,220.46 L103.95,220.43 L104.20,220.39 L104.45,220.36 L104.70,220.33 L104.95,220.29 L105.20,220.26 L105.45,220.22 L105.70,220.19 L105.95,220.15 L106.20,220.12 L106.45,220.08 L106.70,220.04 L106.95,220.00 L107.20,219.97 L107.45,219.93 L107.70,219.89 L107.95,219.85 L108.20,219.81 L108.45,219.77 L108.70,219.73 L108.95,219.69 L109.20,219.65 L109.45,219.61 L109.70,219.57 L109.95,219.53 L110.20,219.48 L110.45,219.44 L110.70,219.40 L110.95,219.35 L111.20,219.31 L111.45,219.26 L111.70,219.22 L111.95,219.17 L112.20,219.12 L112.45,219.07 L112.70,219.03 L112.95,218.98 L113.20,218.93 L113.45,218.88 L113.70,218.83 L113.95,218.78 L114.20,218.73 L114.45,218.68 L114.70,218.62 L114.95,218.57 L115.20,218.52 L115.45,218.46 L115.70,218.41 L115.95,218.35 L116.20,218.30 L116.45,218.24 L116.70,218.18 L116.95,218.13 L117.20,218.07 L117.45,218.01 L117.70,217.95 L117.95,217.89 L118.20,217.83 L118.45,217.76 L118.70,217.70 L118.95,217.64 L119.20,217.57 L119.45,217.51 L119.70,217.44 L119.95,217.38 L120.20,217.31 L120.45,217.24 L120.70,217.17 L120.95,217.10 L121.20,217.03 L121.45,216.96 L121.70,216.89 L121.95,216.81 L122.20,216.74 L122.45,216.66 L122.70,216.59 L122.95,216.51 L123.20,216.43 L123.45,216.35 L123.70,216.27 L123.95,216.19 L124.20,216.11 L124.45,216.03 L124.70,215.94 L124.95,215.86 L125.20,215.77 L125.45,215.69 L125.70,215.60 L125.95,215.51 L126.20,215.42 L126.45,215.33 L126.70,215.23 L126.95,215.14 L127.20,215.05 L127.45,214.95 L127.70,214.85 L127.95,214.75 L128.20,214.65 L128.45,214.55 L128.70,214.45 L128.95,214.34 L129.20,214.24 L129.45,214.13 L129.70,214.02 L129.95,213.91 L130.20,213.80 L130.45,213.69 L130.70,213.58 L130.95,213.46 L131.20,213.34 L131.45,213.22 L131.70,213.10 L131.95,212.98 L132.20,212.86 L132.45,212.73 L132.70,212.61 L132.95,212.48 L133.20,212.35 L133.45,212.22 L133.70,212.08 L133.95,211.95 L134.20,211.81 L134.45,211.67 L134.70,211.53 L134.95,211.38 L135.20,211.24 L135.45,211.09 L135.70,210.94 L135.95,210.79 L136.20,210.64 L136.45,210.48 L136.70,210.32 L136.95,210.16 L137.20,210.00 L137.45,209.83 L137.70,209.67 L137.95,209.50 L138.20,209.33 L138.45,209.15 L138.70,208.98 L138.95,208.80 L139.20,208.62 L139.45,208.43 L139.70,208.24 L139.95,208.06 L140.20,207.86 L140.45,207.67 L140.70,207.47 L140.95,207.28 L141.20,207.07 L141.45,206.87 L141.70,206.67 L141.95,206.46 L142.20,206.25 L142.45,206.03 L142.70,205.82 L142.95,205.60 L143.20,205.38 L143.45,205.16 L143.70,204.93 L143.95,204.70 L144.20,204.47 L144.45,204.23 L144.70,203.99 L144.95,203.75 L145.20,203.50 L145.45,203.26 L145.70,203.00 L145.95,202.75 L146.20,202.49 L146.45,202.23 L146.70,201.96 L146.95,201.70 L147.20,201.42 L147.45,201.15 L147.70,200.87 L147.95,200.59 L148.20,200.30 L148.45,200.01 L148.70,199.71 L148.95,199.42 L149.20,199.11 L149.45,198.81 L149.70,198.50 L149.95,198.19 L150.20,197.87 L150.45,197.55 L150.70,197.22 L150.95,196.90 L151.20,196.56 L151.45,196.23 L151.70,195.89 L151.95,195.55 L152.20,195.21 L152.45,194.86 L152.70,194.51 L152.95,194.15 L153.20,193.80 L153.45,193.44 L153.70,193.08 L153.95,192.71 L154.20,192.34 L154.45,191.98 L154.70,191.61 L154.95,191.23 L155.20,190.86 L155.45,190.48 L155.70,190.10 L155.95,189.72 L156.20,189.35 L156.45,188.97 L156.70,188.60 L156.95,188.23 L157.20,187.87 L157.45,187.50 L157.70,187.14 L157.95,186.77 L158.20,186.40 L158.45,186.03 L158.70,185.66 L158.95,185.28 L159.20,184.90 L159.45,184.51 L159.70,184.12 L159.95,183.73 L160.20,183.34 L160.45,182.95 L160.70,182.57 L160.95,182.19 L161.20,181.81 L161.45,181.44 L161.70,181.07 L161.95,180.70 L162.20,180.34 L162.45,179.99 L162.70,179.64 L162.95,179.30 L163.20,178.97 L163.45,178.64 L163.70,178.32 L163.95,178.01 L164.20,177.71 L164.45,177.42 L164.70,177.13 L164.95,176.85 L165.20,176.57 L165.45,176.30 L165.70,176.03 L165.95,175.77 L166.20,175.51 L166.45,175.27 L166.70,175.03 L166.95,174.80 L167.20,174.58 L167.45,174.37 L167.70,174.17 L167.95,173.99 L168.20,173.82 L168.45,173.66 L168.70,173.51 L168.95,173.38 L169.20,173.27 L169.45,173.17 L169.70,173.08 L169.95,173.02 L170.20,172.97 L170.45,172.93 L170.70,172.92 L170.95,172.92" fill="none" stroke="#0040ff" stroke-width="2.5" stroke-dasharray="7.0 2.6" stroke-dashoffset="-2.74"/>
<path d="M171.00,172.92 L171.25,172.94 L171.50,172.97 L171.75,173.01 L172.00,173.07 L172.25,173.13 L172.50,173.21 L172.75,173.30 L173.00,173.40 L173.25,173.52 L173.50,173.65 L173.75,173.79 L174.00,173.94 L174.25,174.11 L174.50,174.29 L174.75,174.48 L175.00,174.69 L175.25,174.91 L175.50,175.14 L175.75,175.39 L176.00,175.64 L176.25,175.91 L176.50,176.20 L176.75,176.49 L177.00,176.80 L177.25,177.12 L177.50,177.44 L177.75,177.77 L178.00,178.10 L178.25,178.44 L178.50,178.78 L178.75,179.13 L179.00,179.49 L179.25,179.85 L179.50,180.22 L179.75,180.59 L180.00,180.97 L180.25,181.35 L180.50,181.74 L180.75,182.14 L181.00,182.54 L181.25,182.94 L181.50,183.36 L181.75,183.78 L182.00,184.20 L182.25,184.63 L182.50,185.06 L182.75,185.50 L183.00,185.94 L183.25,186.38 L183.50,186.82 L183.75,187.26 L184.00,187.70 L184.25,188.15 L184.50,188.59 L184.75,189.03 L185.00,189.46 L185.25,189.90 L185.50,190.33 L185.75,190.76 L186.00,191.18 L186.25,191.60 L186.50,192.02 L186.75,192.43 L187.00,192.84 L187.25,193.24 L187.50,193.63 L187.75,194.02 L188.00,194.40 L188.25,194.77 L188.50,195.14 L188.75,195.51 L189.00,195.87 L189.25,196.22 L189.50,196.58 L189.75,196.92 L190.00,197.27 L190.25,197.61 L190.50,197.94 L190.75,198.27 L191.00,198.60 L191.25,198.92 L191.50,199.23 L191.75,199.55 L192.00,199.86 L192.25,200.16 L192.50,200.46 L192.75,200.76 L193.00,201.05 L193.25,201.34 L193.50,201.63 L193.75,201.91 L194.00,202.19 L194.25,202.47 L194.50,202.74 L194.75,203.01 L195.00,203.28 L195.25,203.54 L195.50,203.80 L195.75,204.06 L196.00,204.31 L196.25,204.56 L196.50,204.81 L196.75,205.05 L197.00,205.29 L197.25,205.53 L197.50,205.77 L197.75,206.00 L198.00,206.23 L198.25,206.45 L198.50,206.68 L198.75,206.90 L199.00,207.11 L199.25,207.33 L199.50,207.54 L199.75,207.75 L200.00,207.96 L200.25,208.16 L200.50,208.36 L200.75,208.56 L201.00,208.75 L201.25,208.94 L201.50,209.13 L201.75,209.32 L202.00,209.50 L202.25,209.69 L202.50,209.86 L202.75,210.04 L203.00,210.21 L203.25,210.38 L203.50,210.55 L203.75,210.72 L204.00,210.88 L204.25,211.04 L204.50,211.20 L204.75,211.36 L205.00,211.52 L205.25,211.67 L205.50,211.82 L205.75,211.97 L206.00,212.12 L206.25,212.27 L206.50,212.41 L206.75,212.55 L207.00,212.69 L207.25,212.83 L207.50,212.96 L207.75,213.10 L208.00,213.23 L208.25,213.36 L208.50,213.49 L208.75,213.62 L209.00,213.74 L209.25,213.87 L209.50,213.99 L209.75,214.11 L210.00,214.23 L210.25,214.34 L210.50,214.46 L210.75,214.57 L211.00,214.68 L211.25,214.79 L211.50,214.90 L211.75,215.01 L212.00,215.12 L212.25,215.22 L212.50,215.32 L212.75,215.43 L213.00,215.53 L213.25,215.63 L213.50,215.72 L213.75,215.82 L214.00,215.92 L214.25,216.01 L214.50,216.10 L214.75,216.20 L215.00,216.29 L215.25,216.38 L215.50,216.47 L215.75,216.55 L216.00,216.64 L216.25,216.73 L216.50,216.81 L216.75,216.89 L217.00,216.98 L217.25,217.06 L217.50,217.14 L217.75,217.22 L218.00,217.30 L218.25,217.38 L218.50,217.45 L218.75,217.53 L219.00,217.60 L219.25,217.68 L219.50,217.75 L219.75,217.82 L220.00,217.89 L220.25,217.97 L220.50,218.04 L220.75,218.10 L221.00,218.17 L221.25,218.24 L221.50,218.31 L221.75,218.37 L222.00,218.44 L222.25,218.50 L222.50,218.56 L222.75,218.63 L223.00,218.69 L223.25,218.75 L223.50,218.81 L223.75,218.87 L224.00,218.93 L224.25,218.99 L224.50,219.05 L224.75,219.10 L225.00,219.16 L225.25,219.21 L225.50,219.27 L225.75,219.32 L226.00,219.38 L226.25,219.43 L226.50,219.48 L226.75,219.53 L227.00,219.58 L227.25,219.63 L227.50,219.68 L227.75,219.73 L228.00,219.78 L228.25,219.83 L228.50,219.88 L228.75,219.92 L229.00,219.97 L229.25,220.01 L229.50,220.06 L229.75,220.10 L230.00,220.15 L230.25,220.19 L230.50,220.23 L230.75,220.28 L231.00,220.32 L231.25,220.36 L231.50,220.40 L231.75,220.44 L232.00,220.48 L232.25,220.52 L232.50,220.56 L232.75,220.60 L233.00,220.64 L233.25,220.68 L233.50,220.72 L233.75,220.75 L234.00,220.79 L234.25,220.83 L234.50,220.86 L234.75,220.90 L235.00,220.94 L235.25,220.97 L235.50,221.01 L235.75,221.04 L236.00,221.07 L236.25,221.11 L236.50,221.14 L236.75,221.18 L237.00,221.21 L237.25,221.24 L237.50,221.27 L237.75,221.31 L238.00,221.34 L238.25,221.37 L238.50,221.40 L238.75,221.43 L239.00,221.46 L239.25,221.49 L239.50,221.52 L239.75,221.55 L240.00,221.58 L240.25,221.61 L240.50,221.64 L240.75,221.66 L241.00,221.69 L241.25,221.72 L241.50,221.75 L241.75,221.77 L242.00,221.80 L242.25,221.83 L242.50,221.85 L242.75,221.88 L243.00,221.91 L243.25,221.93 L243.50,221.96 L243.75,221.98 L244.00,222.01 L244.25,222.03 L244.50,222.05 L244.75,222.08 L245.00,222.10 L245.25,222.12 L245.50,222.15 L245.75,222.17 L246.00,222.19 L246.25,222.21 L246.50,222.24 L246.75,222.26 L247.00,222.28 L247.25,222.30 L247.50,222.32 L247.75,222.34 L248.00,222.36 L248.25,222.38 L248.50,222.40 L248.75,222.42 L249.00,222.44 L249.25,222.46 L249.50,222.48 L249.75,222.49 L250.00,222.51" fill="none" stroke="#0040ff" stroke-width="2.5" stroke-dasharray="7.0 2.6" stroke-dashoffset="-3.09"/>
<path d="M250.00,222.51 L250.25,222.53 L250.50,222.55 L250.75,222.57 L251.00,222.58 L251.25,222.60 L251.50,222.62 L251.75,222.63 L252.00,222.65 L252.25,222.67 L252.50,222.68 L252.75,222.70 L253.00,222.72 L253.25,222.73 L253.50,222.75 L253.75,222.76 L254.00,222.78 L254.25,222.79 L254.50,222.81 L254.75,222.82 L255.00,222.84 L255.25,222.85 L255.50,222.86 L255.75,222.88 L256.00,222.89 L256.25,222.91 L256.50,222.92 L256.75,222.93 L257.00,222.95 L257.25,222.96 L257.50,222.97 L257.75,222.99 L258.00,223.00 L258.25,223.01 L258.50,223.02 L258.75,223.04 L259.00,223.05 L259.25,223.06 L259.50,223.07 L259.75,223.08 L260.00,223.10 L260.25,223.11 L260.50,223.12 L260.75,223.13 L261.00,223.14 L261.25,223.15 L261.50,223.16 L261.75,223.17 L262.00,223.18 L262.25,223.19 L262.50,223.20 L262.75,223.22 L263.00,223.23 L263.25,223.24 L263.50,223.25 L263.75,223.26 L264.00,223.26 L264.25,223.27 L264.50,223.28 L264.75,223.29 L265.00,223.30 L265.25,223.31 L265.50,223.32 L265.75,223.33 L266.00,223.34 L266.25,223.35 L266.50,223.36 L266.75,223.37 L267.00,223.37 L267.25,223.38 L267.50,223.39 L267.75,223.40 L268.00,223.41 L268.25,223.42 L268.50,223.42 L268.75,223.43 L269.00,223.44 L269.25,223.45 L269.50,223.45 L269.75,223.46 L270.00,223.47 L270.25,223.48 L270.50,223.48 L270.75,223.49 L271.00,223.50 L271.25,223.51 L271.50,223.51 L271.75,223.52 L272.00,223.53 L272.25,223.53 L272.50,223.54 L272.75,223.55 L273.00,223.55 L273.25,223.56 L273.50,223.57 L273.75,223.57 L274.00,223.58 L274.25,223.59 L274.50,223.59 L274.75,223.60 L275.00,223.61 L275.25,223.61 L275.50,223.62 L275.75,223.62 L276.00,223.63 L276.25,223.63 L276.50,223.64 L276.75,223.65 L277.00,223.65 L277.25,223.66 L277.50,223.66 L277.75,223.67 L278.00,223.67 L278.25,223.68 L278.50,223.68 L278.75,223.69 L279.00,223.70 L279.25,223.70 L279.50,223.71 L279.75,223.71 L280.00,223.72 L280.25,223.72 L280.50,223.73 L280.75,223.73 L281.00,223.74 L281.25,223.74 L281.50,223.75 L281.75,223.75 L282.00,223.76 L282.25,223.76 L282.50,223.76 L282.75,223.77 L283.00,223.77 L283.25,223.78 L283.50,223.78 L283.75,223.79 L284.00,223.79 L284.25,223.80 L284.50,223.80 L284.75,223.80 L285.00,223.81 L285.25,223.81 L285.50,223.82 L285.75,223.82 L286.00,223.83 L286.25,223.83 L286.50,223.83 L286.75,223.84 L287.00,223.84 L287.25,223.85 L287.50,223.85 L287.75,223.86 L288.00,223.86 L288.25,223.86 L288.50,223.87 L288.75,223.87 L289.00,223.88 L289.25,223.88 L289.50,223.88 L289.75,223.89 L290.00,223.89 L290.25,223.89 L290.50,223.90 L290.75,223.90 L291.00,223.91 L291.25,223.91 L291.50,223.91 L291.75,223.92 L292.00,223.92 L292.25,223.92 L292.50,223.93 L292.75,223.93 L293.00,223.94 L293.25,223.94 L293.50,223.94 L293.75,223.95 L294.00,223.95 L294.25,223.95 L294.50,223.96 L294.75,223.96 L295.00,223.97 L295.25,223.97 L295.50,223.97 L295.75,223.98 L296.00,223.98 L296.25,223.98 L296.50,223.99 L296.75,223.99 L297.00,224.00 L297.25,224.00 L297.50,224.00 L297.75,224.01 L298.00,224.01 L298.25,224.01 L298.50,224.02 L298.75,224.02 L299.00,224.02 L299.25,224.03 L299.50,224.03 L299.75,224.04 L300.00,224.04 L300.25,224.04 L300.50,224.05 L300.75,224.05 L301.00,224.05 L301.25,224.06 L301.50,224.06 L301.75,224.07 L302.00,224.07 L302.25,224.07 L302.50,224.08 L302.75,224.08 L303.00,224.08 L303.25,224.09 L303.50,224.09 L303.75,224.10 L304.00,224.10" fill="none" stroke="#0040ff" stroke-width="2.5" stroke-dasharray="7.0 2.6" stroke-dashoffset="-2.63"/>
<path d="M16.20,224.80 L16.45,224.80 L16.70,224.80 L16.95,224.80 L17.20,224.80 L17.45,224.80 L17.70,224.80 L17.95,224.80 L18.20,224.80 L18.45,224.80 L18.70,224.80 L18.95,224.80 L19.20,224.80 L19.45,224.80 L19.70,224.80 L19.95,224.80 L20.20,224.80 L20.45,224.80 L20.70,224.80 L20.95,224.80 L21.20,224.80 L21.45,224.80 L21.70,224.80 L21.95,224.80 L22.20,224.80 L22.45,224.80 L22.70,224.80 L22.95,224.80 L23.20,224.80 L23.45,224.80 L23.70,224.80 L23.95,224.80 L24.20,224.80 L24.45,224.80 L24.70,224.80 L24.95,224.80 L25.20,224.80 L25.45,224.80 L25.70,224.80 L25.95,224.80 L26.20,224.80 L26.45,224.80 L26.70,224.80 L26.95,224.80 L27.20,224.80 L27.45,224.80 L27.70,224.80 L27.95,224.80 L28.20,224.80 L28.45,224.80 L28.70,224.80 L28.95,224.80 L29.20,224.80 L29.45,224.80 L29.70,224.80 L29.95,224.80 L30.20,224.80 L30.45,224.80 L30.70,224.80 L30.95,224.80 L31.20,224.80 L31.45,224.80 L31.70,224.80 L31.95,224.80 L32.20,224.80 L32.45,224.80 L32.70,224.80 L32.95,224.80 L33.20,224.80 L33.45,224.80 L33.70,224.80 L33.95,224.80 L34.20,224.80 L34.45,224.80 L34.70,224.80 L34.95,224.80 L35.20,224.80 L35.45,224.80 L35.70,224.80 L35.95,224.80 L36.20,224.80 L36.45,224.80 L36.70,224.80 L36.95,224.80 L37.20,224.80 L37.45,224.80 L37.70,224.80 L37.95,224.80 L38.20,224.80 L38.45,224.80 L38.70,224.80 L38.95,224.80 L39.20,224.80 L39.45,224.80 L39.70,224.80 L39.95,224.80 L40.20,224.80 L40.45,224.80 L40.70,224.80 L40.95,224.80 L41.20,224.80 L41.45,224.80 L41.70,224.80 L41.95,224.80 L42.20,224.80 L42.45,224.80 L42.70,224.80 L42.95,224.80 L43.20,224.80 L43.45,224.80 L43.70,224.80 L43.95,224.80 L44.20,224.80 L44.45,224.80 L44.70,224.80 L44.95,224.80 L45.20,224.80 L45.45,224.80 L45.70,224.80 L45.95,224.80 L46.20,224.80 L46.45,224.80 L46.70,224.80 L46.95,224.80 L47.20,224.80 L47.45,224.80 L47.70,224.80 L47.95,224.80 L48.20,224.80 L48.45,224.80 L48.70,224.80 L48.95,224.80 L49.20,224.80 L49.45,224.80 L49.70,224.80 L49.95,224.80 L50.20,224.80 L50.45,224.80 L50.70,224.80 L50.95,224.80 L51.20,224.80 L51.45,224.80 L51.70,224.80 L51.95,224.80 L52.20,224.80 L52.45,224.80 L52.70,224.80 L52.95,224.80 L53.20,224.80 L53.45,224.80 L53.70,224.80 L53.95,224.80 L54.20,224.80 L54.45,224.80 L54.70,224.80 L54.95,224.80 L55.20,224.80 L55.45,224.80 L55.70,224.80 L55.95,224.80 L56.20,224.80 L56.45,224.80 L56.70,224.80 L56.95,224.80 L57.20,224.80 L57.45,224.80 L57.70,224.80 L57.95,224.80 L58.20,224.80 L58.45,224.80 L58.70,224.80 L58.95,224.80 L59.20,224.80 L59.45,224.80 L59.70,224.80 L59.95,224.80 L60.20,224.80 L60.45,224.80 L60.70,224.80 L60.95,224.80 L61.20,224.80 L61.45,224.80 L61.70,224.80 L61.95,224.80 L62.20,224.80 L62.45,224.80 L62.70,224.80 L62.95,224.80 L63.20,224.80 L63.45,224.80 L63.70,224.80 L63.95,224.80 L64.20,224.80 L64.45,224.80 L64.70,224.80 L64.95,224.80 L65.20,224.80 L65.45,224.80 L65.70,224.80 L65.95,224.80 L66.20,224.80 L66.45,224.80 L66.70,224.80 L66.95,224.80 L67.20,224.80 L67.45,224.80 L67.70,224.80 L67.95,224.80 L68.20,224.80 L68.45,224.80 L68.70,224.80 L68.95,224.80 L69.20,224.80 L69.45,224.80 L69.70,224.80 L69.95,224.80 L70.20,224.80 L70.45,224.80 L70.70,224.80 L70.95,224.80 L71.20,224.80 L71.45,224.80 L71.70,224.80 L71.95,224.80 L72.20,224.80 L72.45,224.80 L72.70,224.80 L72.95,224.80 L73.20,224.80 L73.45,224.80 L73.70,224.80 L73.95,224.80 L74.20,224.80 L74.45,224.80 L74.70,224.80 L74.95,224.80 L75.20,224.80 L75.45,224.80 L75.70,224.80 L75.95,224.80 L76.20,224.80 L76.45,224.80 L76.70,224.80 L76.95,224.80 L77.20,224.80 L77.45,224.80 L77.70,224.80 L77.95,224.80 L78.20,224.80 L78.45,224.80 L78.70,224.80 L78.95,224.80 L79.20,224.80 L79.45,224.80 L79.70,224.80 L79.95,224.80 L80.20,224.80 L80.45,224.80 L80.70,224.80 L80.95,224.80 L81.20,224.80 L81.45,224.80 L81.70,224.80 L81.95,224.80 L82.20,224.80 L82.45,224.80 L82.70,224.80 L82.95,224.80 L83.20,224.80 L83.45,224.80 L83.70,224.80 L83.95,224.80 L84.20,224.80 L84.45,224.80 L84.70,224.80 L84.95,224.80 L85.20,224.80 L85.45,224.80 L85.70,224.80 L85.95,224.80 L86.20,224.80 L86.45,224.80 L86.70,224.80 L86.95,224.80 L87.20,224.80 L87.45,224.80 L87.70,224.80 L87.95,224.80 L88.20,224.80 L88.45,224.80 L88.70,224.80 L88.95,224.80 L89.20,224.80 L89.45,224.80 L89.70,224.80 L89.95,224.80 L90.20,224.80 L90.45,224.80 L90.70,224.80 L90.95,224.80 L91.20,224.80 L91.45,224.80 L91.70,224.80 L91.95,224.80 L92.20,224.80 L92.45,224.80 L92.70,224.80 L92.95,224.80 L93.20,224.80 L93.45,224.80 L93.70,224.80 L93.95,224.80 L94.20,224.80 L94.45,224.80 L94.70,224.80 L94.95,224.80 L95.20,224.80 L95.45,224.80 L95.70,224.80 L95.95,224.80 L96.20,224.80 L96.45,224.80 L96.70,224.80 L96.95,224.80 L97.20,224.80 L97.45,224.80 L97.70,224.80 L97.95,224.80 L98.20,224.80 L98.45,224.80 L98.70,224.80 L98.95,224.80 L99.20,224.80 L99.45,224.80 L99.70,224.80 L99.95,224.80 L100.20,224.80 L100.45,224.80 L100.70,224.80 L100.95,224.80 L101.20,224.80 L101.45,224.80 L101.70,224.80 L101.95,224.80 L102.20,224.80 L102.45,224.80 L102.70,224.80 L102.95,224.80 L103.20,224.80 L103.45,224.80 L103.70,224.80 L103.95,224.80 L104.20,224.80 L104.45,224.80 L104.70,224.80 L104.95,224.80 L105.20,224.80 L105.45,224.80 L105.70,224.80 L105.95,224.80 L106.20,224.80 L106.45,224.80 L106.70,224.80 L106.95,224.80 L107.20,224.80 L107.45,224.80 L107.70,224.80 L107.95,224.80 L108.20,224.80 L108.45,224.80 L108.70,224.80 L108.95,224.80 L109.20,224.80 L109.45,224.80 L109.70,224.80 L109.95,224.80 L110.20,224.80 L110.45,224.80 L110.70,224.80 L110.95,224.80 L111.20,224.80 L111.45,224.80 L111.70,224.80 L111.95,224.80 L112.20,224.80 L112.45,224.80 L112.70,224.80 L112.95,224.80 L113.20,224.80 L113.45,224.80 L113.70,224.80 L113.95,224.80 L114.20,224.80 L114.45,224.80 L114.70,224.80 L114.95,224.80 L115.20,224.80 L115.45,224.80 L115.70,224.80 L115.95,224.80 L116.20,224.80 L116.45,224.80 L116.70,224.80 L116.95,224.80 L117.20,224.80 L117.45,224.80 L117.70,224.80 L117.95,224.80 L118.20,224.80 L118.45,224.80 L118.70,224.80 L118.95,224.80 L119.20,224.80 L119.45,224.80 L119.70,224.80 L119.95,224.80 L120.20,224.80 L120.45,224.80 L120.70,224.80 L120.95,224.80 L121.20,224.79 L121.45,224.79 L121.70,224.79 L121.95,224.78 L122.20,224.78 L122.45,224.78 L122.70,224.77 L122.95,224.76 L123.20,224.76 L123.45,224.75 L123.70,224.75 L123.95,224.74 L124.20,224.73 L124.45,224.72 L124.70,224.72 L124.95,224.71 L125.20,224.70 L125.45,224.69 L125.70,224.68 L125.95,224.67 L126.20,224.66 L126.45,224.65 L126.70,224.64 L126.95,224.63 L127.20,224.62 L127.45,224.59 L127.70,224.57 L127.95,224.54 L128.20,224.52 L128.45,224.49 L128.70,224.46 L128.95,224.44 L129.20,224.41 L129.45,224.38 L129.70,224.36 L129.95,224.33 L130.20,224.30 L130.45,224.27 L130.70,224.24 L130.95,224.21 L131.20,224.18 L131.45,224.15 L131.70,224.12 L131.95,224.09 L132.20,224.06 L132.45,224.03 L132.70,224.00 L132.95,223.97 L133.20,223.93 L133.45,223.90 L133.70,223.87 L133.95,223.84 L134.20,223.80 L134.45,223.77 L134.70,223.74 L134.95,223.70 L135.20,223.67 L135.45,223.64 L135.70,223.60 L135.95,223.57 L136.20,223.54 L136.45,223.50 L136.70,223.47 L136.95,223.43 L137.20,223.40 L137.45,223.36 L137.70,223.33 L137.95,223.29 L138.20,223.26 L138.45,223.22 L138.70,223.18 L138.95,223.15 L139.20,223.11 L139.45,223.08 L139.70,223.04 L139.95,223.00 L140.20,222.97 L140.45,222.93 L140.70,222.89 L140.95,222.85 L141.20,222.81 L141.45,222.77 L141.70,222.73 L141.95,222.69 L142.20,222.64 L142.45,222.60 L142.70,222.56 L142.95,222.51 L143.20,222.46 L143.45,222.42 L143.70,222.37 L143.95,222.32 L144.20,222.27 L144.45,222.22 L144.70,222.17 L144.95,222.11 L145.20,222.06 L145.45,222.01 L145.70,221.95 L145.95,221.89 L146.20,221.83 L146.45,221.78 L146.70,221.71 L146.95,221.65 L147.20,221.59 L147.45,221.53 L147.70,221.46 L147.95,221.40 L148.20,221.33 L148.45,221.26 L148.70,221.19 L148.95,221.12 L149.20,221.05 L149.45,220.97 L149.70,220.90 L149.95,220.82 L150.20,220.74 L150.45,220.67 L150.70,220.59 L150.95,220.50 L151.20,220.42 L151.45,220.34 L151.70,220.25 L151.95,220.16 L152.20,220.07 L152.45,219.98 L152.70,219.89 L152.95,219.80 L153.20,219.70 L153.45,219.61 L153.70,219.51 L153.95,219.41 L154.20,219.31 L154.45,219.21 L154.70,219.11 L154.95,219.00 L155.20,218.90 L155.45,218.79 L155.70,218.68 L155.95,218.57 L156.20,218.46 L156.45,218.34 L156.70,218.23 L156.95,218.11 L157.20,218.00 L157.45,217.88 L157.70,217.76 L157.95,217.64 L158.20,217.52 L158.45,217.40 L158.70,217.27 L158.95,217.15 L159.20,217.02 L159.45,216.90 L159.70,216.77 L159.95,216.64 L160.20,216.51 L160.45,216.38 L160.70,216.25 L160.95,216.12 L161.20,215.99 L161.45,215.86 L161.70,215.73 L161.95,215.60 L162.20,215.47 L162.45,215.34 L162.70,215.21 L162.95,215.08 L163.20,214.95 L163.45,214.82 L163.70,214.69 L163.95,214.57 L164.20,214.44 L164.45,214.31 L164.70,214.19 L164.95,214.07 L165.20,213.95 L165.45,213.83 L165.70,213.71 L165.95,213.59 L166.20,213.48 L166.45,213.37 L166.70,213.26 L166.95,213.15 L167.20,213.04 L167.45,212.94 L167.70,212.84 L167.95,212.74 L168.20,212.65 L168.45,212.56 L168.70,212.47 L168.95,212.39 L169.20,212.30 L169.45,212.23 L169.70,212.15 L169.95,212.08 L170.20,212.01 L170.45,211.95 L170.70,211.89 L170.95,211.83 L171.20,211.78 L171.45,211.73 L171.70,211.69 L171.95,211.64 L172.20,211.61 L172.45,211.57 L172.70,211.54 L172.95,211.52 L173.20,211.50 L173.45,211.48 L173.70,211.47 L173.95,211.46 L174.20,211.45 L174.45,211.45 L174.70,211.45 L174.95,211.45 L175.20,211.46 L175.45,211.47 L175.70,211.49 L175.95,211.51 L176.20,211.53 L176.45,211.55 L176.70,211.58 L176.95,211.61 L177.20,211.65 L177.45,211.68 L177.70,211.72 L177.95,211.76 L178.20,211.81 L178.45,211.86 L178.70,211.91 L178.95,211.96 L179.20,212.01 L179.45,212.07 L179.70,212.13 L179.95,212.19 L180.20,212.25 L180.45,212.31 L180.70,212.38 L180.95,212.44 L181.20,212.51 L181.45,212.58 L181.70,212.65 L181.95,212.72 L182.20,212.79 L182.45,212.87 L182.70,212.94 L182.95,213.02 L183.20,213.09 L183.45,213.17 L183.70,213.25 L183.95,213.33 L184.20,213.40 L184.45,213.48 L184.70,213.56 L184.95,213.64 L185.20,213.72 L185.45,213.80 L185.70,213.88 L185.95,213.96" fill="none" stroke="#006400" stroke-width="2.5" stroke-dasharray="13.1 4.9 3.3 4.9" stroke-dashoffset="-0.04"/>
<path d="M186.00,213.98 L186.25,214.06 L186.50,214.14 L186.75,214.22 L187.00,214.29 L187.25,214.37 L187.50,214.44 L187.75,214.52 L188.00,214.59 L188.25,214.66 L188.50,214.74 L188.75,214.81 L189.00,214.88 L189.25,214.95 L189.50,215.02 L189.75,215.08 L190.00,215.15 L190.25,215.22 L190.50,215.28 L190.75,215.35 L191.00,215.41 L191.25,215.47 L191.50,215.54 L191.75,215.60 L192.00,215.66 L192.25,215.72 L192.50,215.78 L192.75,215.85 L193.00,215.91 L193.25,215.97 L193.50,216.03 L193.75,216.08 L194.00,216.14 L194.25,216.20 L194.50,216.26 L194.75,216.32 L195.00,216.38 L195.25,216.44 L195.50,216.50 L195.75,216.56 L196.00,216.62 L196.25,216.67 L196.50,216.73 L196.75,216.79 L197.00,216.85 L197.25,216.90 L197.50,216.96 L197.75,217.01 L198.00,217.07 L198.25,217.12 L198.50,217.18 L198.75,217.23 L199.00,217.28 L199.25,217.33 L199.50,217.38 L199.75,217.44 L200.00,217.49 L200.25,217.54 L200.50,217.58 L200.75,217.63 L201.00,217.68 L201.25,217.73 L201.50,217.78 L201.75,217.82 L202.00,217.87 L202.25,217.91 L202.50,217.96 L202.75,218.00 L203.00,218.05 L203.25,218.09 L203.50,218.14 L203.75,218.18 L204.00,218.22 L204.25,218.26 L204.50,218.31 L204.75,218.35 L205.00,218.39 L205.25,218.43 L205.50,218.47 L205.75,218.51 L206.00,218.55 L206.25,218.59 L206.50,218.63 L206.75,218.67 L207.00,218.70 L207.25,218.74 L207.50,218.78 L207.75,218.82 L208.00,218.85 L208.25,218.89 L208.50,218.93 L208.75,218.96 L209.00,219.00 L209.25,219.03 L209.50,219.07 L209.75,219.10 L210.00,219.14 L210.25,219.17 L210.50,219.20 L210.75,219.24 L211.00,219.27 L211.25,219.30 L211.50,219.33 L211.75,219.36 L212.00,219.40 L212.25,219.43 L212.50,219.46 L212.75,219.49 L213.00,219.52 L213.25,219.55 L213.50,219.58 L213.75,219.60 L214.00,219.63 L214.25,219.66 L214.50,219.69 L214.75,219.72 L215.00,219.74 L215.25,219.77 L215.50,219.80 L215.75,219.83 L216.00,219.85 L216.25,219.88 L216.50,219.90 L216.75,219.93 L217.00,219.95 L217.25,219.98 L217.50,220.00 L217.75,220.03 L218.00,220.05 L218.25,220.08 L218.50,220.10 L218.75,220.12 L219.00,220.15 L219.25,220.17 L219.50,220.19 L219.75,220.22 L220.00,220.24 L220.25,220.26 L220.50,220.28 L220.75,220.30 L221.00,220.32 L221.25,220.35 L221.50,220.37 L221.75,220.39 L222.00,220.41 L222.25,220.43 L222.50,220.45 L222.75,220.47 L223.00,220.49 L223.25,220.51 L223.50,220.53 L223.75,220.55 L224.00,220.57 L224.25,220.59 L224.50,220.60 L224.75,220.62 L225.00,220.64 L225.25,220.66 L225.50,220.68 L225.75,220.70 L226.00,220.71 L226.25,220.73 L226.50,220.75 L226.75,220.76 L227.00,220.78 L227.25,220.80 L227.50,220.81 L227.75,220.83 L228.00,220.85 L228.25,220.86 L228.50,220.88 L228.75,220.89 L229.00,220.91 L229.25,220.92 L229.50,220.94 L229.75,220.95 L230.00,220.97 L230.25,220.98 L230.50,220.99 L230.75,221.01 L231.00,221.02 L231.25,221.04 L231.50,221.05 L231.75,221.06 L232.00,221.08 L232.25,221.09 L232.50,221.10 L232.75,221.11 L233.00,221.13 L233.25,221.14 L233.50,221.15 L233.75,221.16 L234.00,221.17 L234.25,221.19 L234.50,221.20 L234.75,221.21 L235.00,221.22 L235.25,221.23 L235.50,221.24 L235.75,221.26 L236.00,221.27 L236.25,221.28 L236.50,221.29 L236.75,221.30 L237.00,221.31 L237.25,221.32 L237.50,221.33 L237.75,221.34 L238.00,221.35 L238.25,221.36 L238.50,221.37 L238.75,221.38 L239.00,221.39 L239.25,221.40 L239.50,221.41 L239.75,221.42 L240.00,221.43 L240.25,221.44 L240.50,221.45 L240.75,221.46 L241.00,221.47 L241.25,221.48 L241.50,221.48 L241.75,221.49 L242.00,221.50 L242.25,221.51 L242.50,221.52 L242.75,221.53 L243.00,221.54 L243.25,221.55 L243.50,221.56 L243.75,221.56 L244.00,221.57 L244.25,221.58 L244.50,221.59 L244.75,221.60 L245.00,221.61 L245.25,221.62 L245.50,221.62 L245.75,221.63 L246.00,221.64 L246.25,221.65 L246.50,221.66 L246.75,221.67 L247.00,221.67 L247.25,221.68 L247.50,221.69 L247.75,221.70 L248.00,221.71 L248.25,221.71 L248.50,221.72 L248.75,221.73 L249.00,221.74 L249.25,221.75 L249.50,221.76 L249.75,221.76 L250.00,221.77 L250.25,221.78 L250.50,221.79 L250.75,221.80 L251.00,221.80 L251.25,221.81 L251.50,221.82 L251.75,221.83 L252.00,221.84 L252.25,221.84 L252.50,221.85 L252.75,221.86 L253.00,221.87 L253.25,221.88 L253.50,221.89 L253.75,221.89 L254.00,221.90 L254.25,221.91 L254.50,221.92 L254.75,221.93 L255.00,221.93 L255.25,221.94 L255.50,221.95 L255.75,221.96 L256.00,221.97 L256.25,221.98 L256.50,221.98 L256.75,221.99 L257.00,222.00 L257.25,222.01 L257.50,222.02 L257.75,222.02 L258.00,222.03 L258.25,222.04 L258.50,222.05 L258.75,222.06 L259.00,222.06 L259.25,222.07 L259.50,222.08 L259.75,222.09 L260.00,222.10 L260.25,222.10 L260.50,222.11 L260.75,222.12 L261.00,222.13 L261.25,222.14 L261.50,222.14 L261.75,222.15 L262.00,222.16 L262.25,222.17 L262.50,222.18 L262.75,222.18 L263.00,222.19 L263.25,222.20 L263.50,222.21 L263.75,222.22 L264.00,222.22 L264.25,222.23 L264.50,222.24 L264.75,222.25 L265.00,222.25 L265.25,222.26 L265.50,222.27 L265.75,222.28 L266.00,222.28 L266.25,222.29 L266.50,222.30 L266.75,222.31 L267.00,222.31 L267.25,222.32 L267.50,222.33 L267.75,222.34 L268.00,222.34 L268.25,222.35 L268.50,222.36 L268.75,222.37 L269.00,222.37 L269.25,222.38 L269.50,222.39 L269.75,222.40 L270.00,222.40 L270.25,222.41 L270.50,222.42 L270.75,222.42 L271.00,222.43 L271.25,222.44 L271.50,222.44 L271.75,222.45 L272.00,222.46 L272.25,222.47 L272.50,222.47 L272.75,222.48 L273.00,222.49 L273.25,222.49 L273.50,222.50 L273.75,222.51 L274.00,222.51 L274.25,222.52 L274.50,222.52 L274.75,222.53 L275.00,222.54 L275.25,222.54 L275.50,222.55 L275.75,222.56 L276.00,222.56 L276.25,222.57 L276.50,222.57 L276.75,222.58 L277.00,222.59 L277.25,222.59 L277.50,222.60 L277.75,222.60 L278.00,222.61 L278.25,222.61 L278.50,222.62 L278.75,222.63 L279.00,222.63 L279.25,222.64 L279.50,222.64 L279.75,222.65 L280.00,222.65 L280.25,222.66 L280.50,222.66 L280.75,222.67 L281.00,222.67 L281.25,222.68 L281.50,222.68 L281.75,222.69 L282.00,222.69 L282.25,222.70 L282.50,222.70 L282.75,222.71 L283.00,222.71 L283.25,222.72 L283.50,222.72 L283.75,222.73 L284.00,222.73 L284.25,222.74 L284.50,222.74 L284.75,222.75 L285.00,222.75 L285.25,222.76 L285.50,222.76 L285.75,222.77 L286.00,222.77 L286.25,222.78 L286.50,222.78 L286.75,222.79 L287.00,222.79 L287.25,222.80 L287.50,222.80 L287.75,222.81 L288.00,222.81 L288.25,222.82 L288.50,222.82 L288.75,222.83 L289.00,222.83 L289.25,222.84 L289.50,222.84 L289.75,222.85 L290.00,222.85 L290.25,222.85 L290.50,222.86 L290.75,222.86 L291.00,222.87 L291.25,222.87 L291.50,222.88 L291.75,222.88 L292.00,222.89 L292.25,222.89 L292.50,222.89 L292.75,222.90 L293.00,222.90 L293.25,222.91 L293.50,222.91 L293.75,222.92 L294.00,222.92 L294.25,222.92 L294.50,222.93 L294.75,222.93 L295.00,222.94 L295.25,222.94 L295.50,222.94 L295.75,222.95 L296.00,222.95 L296.25,222.96 L296.50,222.96 L296.75,222.96 L297.00,222.97 L297.25,222.97 L297.50,222.97 L297.75,222.98 L298.00,222.98 L298.25,222.98 L298.50,222.99 L298.75,222.99 L299.00,223.00 L299.25,223.00 L299.50,223.00 L299.75,223.01 L300.00,223.01 L300.25,223.01 L300.50,223.01 L300.75,223.02 L301.00,223.02 L301.25,223.02 L301.50,223.03 L301.75,223.03 L302.00,223.03 L302.25,223.04 L302.50,223.04 L302.75,223.04 L303.00,223.04 L303.25,223.05 L303.50,223.05 L303.75,223.05 L304.00,223.05" fill="none" stroke="#006400" stroke-width="2.5" stroke-dasharray="13.1 4.9 3.3 4.9" stroke-dashoffset="-11.06"/>
</g>
<path d="M17.35,224.5 v-2.6 M26.86,224.5 v-1.5 M36.37,224.5 v-1.5 M45.88,224.5 v-1.5 M55.39,224.5 v-1.5 M64.90,224.5 v-2.6 M74.41,224.5 v-1.5 M83.92,224.5 v-1.5 M93.43,224.5 v-1.5 M102.94,224.5 v-1.5 M112.45,224.5 v-2.6 M121.96,224.5 v-1.5 M131.47,224.5 v-1.5 M140.98,224.5 v-1.5 M150.49,224.5 v-1.5 M160.00,224.5 v-2.6 M169.51,224.5 v-1.5 M179.02,224.5 v-1.5 M188.53,224.5 v-1.5 M198.04,224.5 v-1.5 M207.55,224.5 v-2.6 M217.06,224.5 v-1.5 M226.57,224.5 v-1.5 M236.08,224.5 v-1.5 M245.59,224.5 v-1.5 M255.10,224.5 v-2.6 M264.61,224.5 v-1.5 M274.12,224.5 v-1.5 M283.63,224.5 v-1.5 M293.14,224.5 v-1.5 M302.65,224.5 v-2.6 M160.0,224.50 h3.3 M160.0,214.60 h2.0 M160.0,204.70 h2.0 M160.0,194.80 h2.0 M160.0,184.90 h3.3 M160.0,175.00 h2.0 M160.0,165.10 h2.0 M160.0,155.20 h2.0 M160.0,145.30 h3.3 M160.0,135.40 h2.0 M160.0,125.50 h2.0 M160.0,115.60 h2.0 M160.0,105.70 h3.3 M160.0,95.80 h2.0 M160.0,85.90 h2.0 M160.0,76.00 h2.0 M160.0,66.10 h3.3 M160.0,56.20 h2.0 M160.0,46.30 h2.0 M160.0,36.40 h2.0 M160.0,26.50 h3.3" fill="none" stroke="#000" stroke-width="1"/>
<path d="M11.3,224.6 H308.8" fill="none" stroke="#000" stroke-width="1.3"/>
<path d="M159.9,26.2 V225.2" fill="none" stroke="#000" stroke-width="1.15"/>
<g style="filter:opacity(0.999)">
<text x="0.4" y="243.8" font-size="17.3">−</text><text x="12.3" y="243.8" font-size="17.3">0.3</text>
<text x="48.1" y="243.8" font-size="17.3">−</text><text x="60.0" y="243.8" font-size="17.3">0.2</text>
<text x="95.8" y="243.8" font-size="17.3">−</text><text x="107.8" y="243.8" font-size="17.3">0.1</text>
<text x="159.3" y="243.8" text-anchor="middle" font-size="17.3">0.0</text>
<text x="207.0" y="243.8" text-anchor="middle" font-size="17.3">0.1</text>
<text x="254.7" y="243.8" text-anchor="middle" font-size="17.3">0.2</text>
<text x="302.4" y="243.8" text-anchor="middle" font-size="17.3">0.3</text>
<text x="156.3" y="190.7" text-anchor="end" font-size="17.3">0.2</text>
<text x="156.3" y="151.1" text-anchor="end" font-size="17.3">0.4</text>
<text x="156.3" y="111.5" text-anchor="end" font-size="17.3">0.6</text>
<text x="156.3" y="71.9" text-anchor="end" font-size="17.3">0.8</text>
<text x="156.3" y="33.1" text-anchor="end" font-size="17.3">1.0</text>
<text x="151.2" y="15.8" font-size="17.3">Br</text>
<text transform="translate(316.58,229.90) scale(1.15,1)" font-size="15.8" font-style="italic">ϕ</text>
<text transform="translate(12.46,40.00) scale(1.1,1)" font-size="16.5" font-style="italic">α</text>
<text transform="translate(29.78,42.00) scale(1.12,1)" font-size="16.5">=</text>
<text transform="translate(48.50,40.00) scale(1.12,1)" font-size="16.5">0</text>
<text x="15.81" y="100.00" font-size="16.5" font-style="italic">π</text>
<text transform="translate(24.80,100.00) scale(1.07,1)" font-size="17.2">Δ</text>
<text x="17.91" y="179.70" font-size="16.5" font-style="italic">π</text>
<text transform="translate(25.77,179.70) scale(1.06,1)" font-size="17.2">N</text>
<text x="104.61" y="207.40" font-size="16.5" font-style="italic">η</text>
<text transform="translate(113.17,207.40) scale(1.06,1)" font-size="17.2">N</text>
<text transform="translate(201.78,167.50) scale(1.04,1)" font-size="17.2">K</text>
<text transform="translate(213.53,167.50) scale(1.03,1)" font-size="17.2">Λ</text>
</g>
<path d="M207.8,172.4 L197.12,203.90" stroke="#000" stroke-width="0.7" fill="none"/>
<path d="M194.1,212.8 L194.41,201.92 L197.12,203.90 L200.47,203.98 Z" fill="#000"/>
</svg></body></html>
